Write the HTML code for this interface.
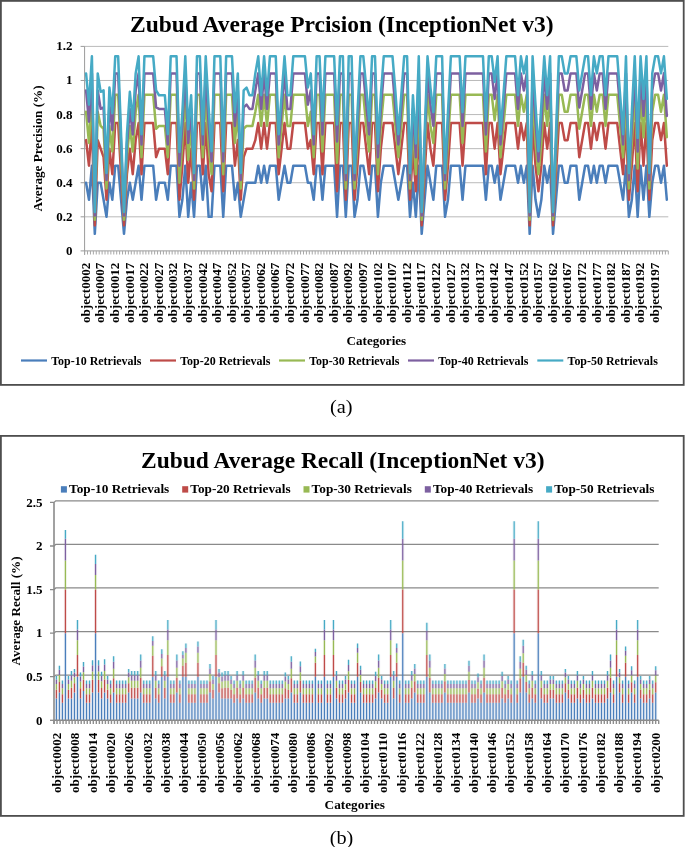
<!DOCTYPE html><html><head><meta charset="utf-8"><title>Zubud charts</title>
<style>html,body{margin:0;padding:0;background:#fff;}svg{display:block;will-change:transform;}text{font-family:"Liberation Serif",serif;}</style></head><body>
<svg width="685" height="847" viewBox="0 0 685 847">
<rect width="685" height="847" fill="#fff"/>
<rect x="0.9" y="0.9" width="682.8" height="384" fill="#fff" stroke="#4e4e4e" stroke-width="1.8"/>
<text x="341.8" y="32" text-anchor="middle" font-size="23px" textLength="423.5" lengthAdjust="spacingAndGlyphs" font-family="Liberation Serif, serif" font-weight="bold">Zubud Average Prcision (InceptionNet v3)</text>
<line x1="80.6" x2="84.6" y1="250.90" y2="250.90" stroke="#9a9a9a" stroke-width="1"/>
<text x="72.4" y="254.90" text-anchor="end" font-size="13px" font-family="Liberation Serif, serif" font-weight="bold">0</text>
<line x1="84.6" x2="668.3" y1="216.82" y2="216.82" stroke="#bababa" stroke-width="1"/>
<line x1="80.6" x2="84.6" y1="216.82" y2="216.82" stroke="#9a9a9a" stroke-width="1"/>
<text x="72.4" y="220.82" text-anchor="end" font-size="13px" font-family="Liberation Serif, serif" font-weight="bold">0.2</text>
<line x1="84.6" x2="668.3" y1="182.73" y2="182.73" stroke="#bababa" stroke-width="1"/>
<line x1="80.6" x2="84.6" y1="182.73" y2="182.73" stroke="#9a9a9a" stroke-width="1"/>
<text x="72.4" y="186.73" text-anchor="end" font-size="13px" font-family="Liberation Serif, serif" font-weight="bold">0.4</text>
<line x1="84.6" x2="668.3" y1="148.65" y2="148.65" stroke="#bababa" stroke-width="1"/>
<line x1="80.6" x2="84.6" y1="148.65" y2="148.65" stroke="#9a9a9a" stroke-width="1"/>
<text x="72.4" y="152.65" text-anchor="end" font-size="13px" font-family="Liberation Serif, serif" font-weight="bold">0.6</text>
<line x1="84.6" x2="668.3" y1="114.57" y2="114.57" stroke="#bababa" stroke-width="1"/>
<line x1="80.6" x2="84.6" y1="114.57" y2="114.57" stroke="#9a9a9a" stroke-width="1"/>
<text x="72.4" y="118.57" text-anchor="end" font-size="13px" font-family="Liberation Serif, serif" font-weight="bold">0.8</text>
<line x1="84.6" x2="668.3" y1="80.48" y2="80.48" stroke="#bababa" stroke-width="1"/>
<line x1="80.6" x2="84.6" y1="80.48" y2="80.48" stroke="#9a9a9a" stroke-width="1"/>
<text x="72.4" y="84.48" text-anchor="end" font-size="13px" font-family="Liberation Serif, serif" font-weight="bold">1</text>
<line x1="84.6" x2="668.3" y1="46.40" y2="46.40" stroke="#bababa" stroke-width="1"/>
<line x1="80.6" x2="84.6" y1="46.40" y2="46.40" stroke="#9a9a9a" stroke-width="1"/>
<text x="72.4" y="50.40" text-anchor="end" font-size="13px" font-family="Liberation Serif, serif" font-weight="bold">1.2</text>
<line x1="84.6" x2="84.6" y1="46.4" y2="254.9" stroke="#9a9a9a" stroke-width="1"/>
<line x1="84.6" x2="668.3" y1="250.9" y2="250.9" stroke="#9a9a9a" stroke-width="1"/>
<path d="M84.60 250.9v3.6M87.52 250.9v3.6M90.44 250.9v3.6M93.36 250.9v3.6M96.27 250.9v3.6M99.19 250.9v3.6M102.11 250.9v3.6M105.03 250.9v3.6M107.95 250.9v3.6M110.87 250.9v3.6M113.78 250.9v3.6M116.70 250.9v3.6M119.62 250.9v3.6M122.54 250.9v3.6M125.46 250.9v3.6M128.38 250.9v3.6M131.30 250.9v3.6M134.21 250.9v3.6M137.13 250.9v3.6M140.05 250.9v3.6M142.97 250.9v3.6M145.89 250.9v3.6M148.81 250.9v3.6M151.73 250.9v3.6M154.64 250.9v3.6M157.56 250.9v3.6M160.48 250.9v3.6M163.40 250.9v3.6M166.32 250.9v3.6M169.24 250.9v3.6M172.15 250.9v3.6M175.07 250.9v3.6M177.99 250.9v3.6M180.91 250.9v3.6M183.83 250.9v3.6M186.75 250.9v3.6M189.67 250.9v3.6M192.58 250.9v3.6M195.50 250.9v3.6M198.42 250.9v3.6M201.34 250.9v3.6M204.26 250.9v3.6M207.18 250.9v3.6M210.10 250.9v3.6M213.01 250.9v3.6M215.93 250.9v3.6M218.85 250.9v3.6M221.77 250.9v3.6M224.69 250.9v3.6M227.61 250.9v3.6M230.52 250.9v3.6M233.44 250.9v3.6M236.36 250.9v3.6M239.28 250.9v3.6M242.20 250.9v3.6M245.12 250.9v3.6M248.04 250.9v3.6M250.95 250.9v3.6M253.87 250.9v3.6M256.79 250.9v3.6M259.71 250.9v3.6M262.63 250.9v3.6M265.55 250.9v3.6M268.47 250.9v3.6M271.38 250.9v3.6M274.30 250.9v3.6M277.22 250.9v3.6M280.14 250.9v3.6M283.06 250.9v3.6M285.98 250.9v3.6M288.89 250.9v3.6M291.81 250.9v3.6M294.73 250.9v3.6M297.65 250.9v3.6M300.57 250.9v3.6M303.49 250.9v3.6M306.41 250.9v3.6M309.32 250.9v3.6M312.24 250.9v3.6M315.16 250.9v3.6M318.08 250.9v3.6M321.00 250.9v3.6M323.92 250.9v3.6M326.84 250.9v3.6M329.75 250.9v3.6M332.67 250.9v3.6M335.59 250.9v3.6M338.51 250.9v3.6M341.43 250.9v3.6M344.35 250.9v3.6M347.26 250.9v3.6M350.18 250.9v3.6M353.10 250.9v3.6M356.02 250.9v3.6M358.94 250.9v3.6M361.86 250.9v3.6M364.78 250.9v3.6M367.69 250.9v3.6M370.61 250.9v3.6M373.53 250.9v3.6M376.45 250.9v3.6M379.37 250.9v3.6M382.29 250.9v3.6M385.21 250.9v3.6M388.12 250.9v3.6M391.04 250.9v3.6M393.96 250.9v3.6M396.88 250.9v3.6M399.80 250.9v3.6M402.72 250.9v3.6M405.63 250.9v3.6M408.55 250.9v3.6M411.47 250.9v3.6M414.39 250.9v3.6M417.31 250.9v3.6M420.23 250.9v3.6M423.15 250.9v3.6M426.06 250.9v3.6M428.98 250.9v3.6M431.90 250.9v3.6M434.82 250.9v3.6M437.74 250.9v3.6M440.66 250.9v3.6M443.58 250.9v3.6M446.49 250.9v3.6M449.41 250.9v3.6M452.33 250.9v3.6M455.25 250.9v3.6M458.17 250.9v3.6M461.09 250.9v3.6M464.00 250.9v3.6M466.92 250.9v3.6M469.84 250.9v3.6M472.76 250.9v3.6M475.68 250.9v3.6M478.60 250.9v3.6M481.52 250.9v3.6M484.43 250.9v3.6M487.35 250.9v3.6M490.27 250.9v3.6M493.19 250.9v3.6M496.11 250.9v3.6M499.03 250.9v3.6M501.95 250.9v3.6M504.86 250.9v3.6M507.78 250.9v3.6M510.70 250.9v3.6M513.62 250.9v3.6M516.54 250.9v3.6M519.46 250.9v3.6M522.38 250.9v3.6M525.29 250.9v3.6M528.21 250.9v3.6M531.13 250.9v3.6M534.05 250.9v3.6M536.97 250.9v3.6M539.89 250.9v3.6M542.80 250.9v3.6M545.72 250.9v3.6M548.64 250.9v3.6M551.56 250.9v3.6M554.48 250.9v3.6M557.40 250.9v3.6M560.32 250.9v3.6M563.23 250.9v3.6M566.15 250.9v3.6M569.07 250.9v3.6M571.99 250.9v3.6M574.91 250.9v3.6M577.83 250.9v3.6M580.75 250.9v3.6M583.66 250.9v3.6M586.58 250.9v3.6M589.50 250.9v3.6M592.42 250.9v3.6M595.34 250.9v3.6M598.26 250.9v3.6M601.17 250.9v3.6M604.09 250.9v3.6M607.01 250.9v3.6M609.93 250.9v3.6M612.85 250.9v3.6M615.77 250.9v3.6M618.69 250.9v3.6M621.60 250.9v3.6M624.52 250.9v3.6M627.44 250.9v3.6M630.36 250.9v3.6M633.28 250.9v3.6M636.20 250.9v3.6M639.12 250.9v3.6M642.03 250.9v3.6M644.95 250.9v3.6M647.87 250.9v3.6M650.79 250.9v3.6M653.71 250.9v3.6M656.63 250.9v3.6M659.54 250.9v3.6M662.46 250.9v3.6M665.38 250.9v3.6M668.30 250.9v3.6" stroke="#a6a6a6" stroke-width="1" fill="none"/>
<text transform="translate(89.76,323) rotate(-90)" font-size="13px" textLength="60.4" lengthAdjust="spacingAndGlyphs" font-family="Liberation Serif, serif" font-weight="bold">object0002</text>
<text transform="translate(104.35,323) rotate(-90)" font-size="13px" textLength="60.4" lengthAdjust="spacingAndGlyphs" font-family="Liberation Serif, serif" font-weight="bold">object0007</text>
<text transform="translate(118.94,323) rotate(-90)" font-size="13px" textLength="60.4" lengthAdjust="spacingAndGlyphs" font-family="Liberation Serif, serif" font-weight="bold">object0012</text>
<text transform="translate(133.54,323) rotate(-90)" font-size="13px" textLength="60.4" lengthAdjust="spacingAndGlyphs" font-family="Liberation Serif, serif" font-weight="bold">object0017</text>
<text transform="translate(148.13,323) rotate(-90)" font-size="13px" textLength="60.4" lengthAdjust="spacingAndGlyphs" font-family="Liberation Serif, serif" font-weight="bold">object0022</text>
<text transform="translate(162.72,323) rotate(-90)" font-size="13px" textLength="60.4" lengthAdjust="spacingAndGlyphs" font-family="Liberation Serif, serif" font-weight="bold">object0027</text>
<text transform="translate(177.31,323) rotate(-90)" font-size="13px" textLength="60.4" lengthAdjust="spacingAndGlyphs" font-family="Liberation Serif, serif" font-weight="bold">object0032</text>
<text transform="translate(191.91,323) rotate(-90)" font-size="13px" textLength="60.4" lengthAdjust="spacingAndGlyphs" font-family="Liberation Serif, serif" font-weight="bold">object0037</text>
<text transform="translate(206.50,323) rotate(-90)" font-size="13px" textLength="60.4" lengthAdjust="spacingAndGlyphs" font-family="Liberation Serif, serif" font-weight="bold">object0042</text>
<text transform="translate(221.09,323) rotate(-90)" font-size="13px" textLength="60.4" lengthAdjust="spacingAndGlyphs" font-family="Liberation Serif, serif" font-weight="bold">object0047</text>
<text transform="translate(235.68,323) rotate(-90)" font-size="13px" textLength="60.4" lengthAdjust="spacingAndGlyphs" font-family="Liberation Serif, serif" font-weight="bold">object0052</text>
<text transform="translate(250.28,323) rotate(-90)" font-size="13px" textLength="60.4" lengthAdjust="spacingAndGlyphs" font-family="Liberation Serif, serif" font-weight="bold">object0057</text>
<text transform="translate(264.87,323) rotate(-90)" font-size="13px" textLength="60.4" lengthAdjust="spacingAndGlyphs" font-family="Liberation Serif, serif" font-weight="bold">object0062</text>
<text transform="translate(279.46,323) rotate(-90)" font-size="13px" textLength="60.4" lengthAdjust="spacingAndGlyphs" font-family="Liberation Serif, serif" font-weight="bold">object0067</text>
<text transform="translate(294.05,323) rotate(-90)" font-size="13px" textLength="60.4" lengthAdjust="spacingAndGlyphs" font-family="Liberation Serif, serif" font-weight="bold">object0072</text>
<text transform="translate(308.65,323) rotate(-90)" font-size="13px" textLength="60.4" lengthAdjust="spacingAndGlyphs" font-family="Liberation Serif, serif" font-weight="bold">object0077</text>
<text transform="translate(323.24,323) rotate(-90)" font-size="13px" textLength="60.4" lengthAdjust="spacingAndGlyphs" font-family="Liberation Serif, serif" font-weight="bold">object0082</text>
<text transform="translate(337.83,323) rotate(-90)" font-size="13px" textLength="60.4" lengthAdjust="spacingAndGlyphs" font-family="Liberation Serif, serif" font-weight="bold">object0087</text>
<text transform="translate(352.42,323) rotate(-90)" font-size="13px" textLength="60.4" lengthAdjust="spacingAndGlyphs" font-family="Liberation Serif, serif" font-weight="bold">object0092</text>
<text transform="translate(367.02,323) rotate(-90)" font-size="13px" textLength="60.4" lengthAdjust="spacingAndGlyphs" font-family="Liberation Serif, serif" font-weight="bold">object0097</text>
<text transform="translate(381.61,323) rotate(-90)" font-size="13px" textLength="60.4" lengthAdjust="spacingAndGlyphs" font-family="Liberation Serif, serif" font-weight="bold">object0102</text>
<text transform="translate(396.20,323) rotate(-90)" font-size="13px" textLength="60.4" lengthAdjust="spacingAndGlyphs" font-family="Liberation Serif, serif" font-weight="bold">object0107</text>
<text transform="translate(410.79,323) rotate(-90)" font-size="13px" textLength="60.4" lengthAdjust="spacingAndGlyphs" font-family="Liberation Serif, serif" font-weight="bold">object0112</text>
<text transform="translate(425.39,323) rotate(-90)" font-size="13px" textLength="60.4" lengthAdjust="spacingAndGlyphs" font-family="Liberation Serif, serif" font-weight="bold">object0117</text>
<text transform="translate(439.98,323) rotate(-90)" font-size="13px" textLength="60.4" lengthAdjust="spacingAndGlyphs" font-family="Liberation Serif, serif" font-weight="bold">object0122</text>
<text transform="translate(454.57,323) rotate(-90)" font-size="13px" textLength="60.4" lengthAdjust="spacingAndGlyphs" font-family="Liberation Serif, serif" font-weight="bold">object0127</text>
<text transform="translate(469.16,323) rotate(-90)" font-size="13px" textLength="60.4" lengthAdjust="spacingAndGlyphs" font-family="Liberation Serif, serif" font-weight="bold">object0132</text>
<text transform="translate(483.76,323) rotate(-90)" font-size="13px" textLength="60.4" lengthAdjust="spacingAndGlyphs" font-family="Liberation Serif, serif" font-weight="bold">object0137</text>
<text transform="translate(498.35,323) rotate(-90)" font-size="13px" textLength="60.4" lengthAdjust="spacingAndGlyphs" font-family="Liberation Serif, serif" font-weight="bold">object0142</text>
<text transform="translate(512.94,323) rotate(-90)" font-size="13px" textLength="60.4" lengthAdjust="spacingAndGlyphs" font-family="Liberation Serif, serif" font-weight="bold">object0147</text>
<text transform="translate(527.53,323) rotate(-90)" font-size="13px" textLength="60.4" lengthAdjust="spacingAndGlyphs" font-family="Liberation Serif, serif" font-weight="bold">object0152</text>
<text transform="translate(542.13,323) rotate(-90)" font-size="13px" textLength="60.4" lengthAdjust="spacingAndGlyphs" font-family="Liberation Serif, serif" font-weight="bold">object0157</text>
<text transform="translate(556.72,323) rotate(-90)" font-size="13px" textLength="60.4" lengthAdjust="spacingAndGlyphs" font-family="Liberation Serif, serif" font-weight="bold">object0162</text>
<text transform="translate(571.31,323) rotate(-90)" font-size="13px" textLength="60.4" lengthAdjust="spacingAndGlyphs" font-family="Liberation Serif, serif" font-weight="bold">object0167</text>
<text transform="translate(585.90,323) rotate(-90)" font-size="13px" textLength="60.4" lengthAdjust="spacingAndGlyphs" font-family="Liberation Serif, serif" font-weight="bold">object0172</text>
<text transform="translate(600.50,323) rotate(-90)" font-size="13px" textLength="60.4" lengthAdjust="spacingAndGlyphs" font-family="Liberation Serif, serif" font-weight="bold">object0177</text>
<text transform="translate(615.09,323) rotate(-90)" font-size="13px" textLength="60.4" lengthAdjust="spacingAndGlyphs" font-family="Liberation Serif, serif" font-weight="bold">object0182</text>
<text transform="translate(629.68,323) rotate(-90)" font-size="13px" textLength="60.4" lengthAdjust="spacingAndGlyphs" font-family="Liberation Serif, serif" font-weight="bold">object0187</text>
<text transform="translate(644.27,323) rotate(-90)" font-size="13px" textLength="60.4" lengthAdjust="spacingAndGlyphs" font-family="Liberation Serif, serif" font-weight="bold">object0192</text>
<text transform="translate(658.87,323) rotate(-90)" font-size="13px" textLength="60.4" lengthAdjust="spacingAndGlyphs" font-family="Liberation Serif, serif" font-weight="bold">object0197</text>
<text transform="translate(41.7,148.4) rotate(-90)" text-anchor="middle" font-size="13px" textLength="126" lengthAdjust="spacingAndGlyphs" font-family="Liberation Serif, serif" font-weight="bold">Average Precision (%)</text>
<text x="376.4" y="344.6" text-anchor="middle" font-size="13px" textLength="59.6" lengthAdjust="spacingAndGlyphs" font-family="Liberation Serif, serif" font-weight="bold">Categories</text>
<polyline points="86.06,182.73 88.98,199.78 91.90,165.69 94.81,233.86 97.73,182.73 100.65,182.73 103.57,199.78 106.49,216.82 109.41,182.73 112.33,199.78 115.24,165.69 118.16,165.69 121.08,199.78 124.00,233.86 126.92,199.78 129.84,182.73 132.76,199.78 135.67,182.73 138.59,165.69 141.51,199.78 144.43,165.69 147.35,165.69 150.27,165.69 153.18,165.69 156.10,199.78 159.02,182.73 161.94,182.73 164.86,182.73 167.78,199.78 170.70,165.69 173.61,165.69 176.53,165.69 179.45,216.82 182.37,199.78 185.29,165.69 188.21,216.82 191.13,182.73 194.04,216.82 196.96,165.69 199.88,165.69 202.80,199.78 205.72,165.69 208.64,216.82 211.55,216.82 214.47,165.69 217.39,165.69 220.31,165.69 223.23,216.82 226.15,165.69 229.07,165.69 231.98,165.69 234.90,199.78 237.82,182.73 240.74,216.82 243.66,199.78 246.58,182.73 249.50,182.73 252.41,182.73 255.33,182.73 258.25,165.69 261.17,182.73 264.09,165.69 267.01,182.73 269.92,165.69 272.84,165.69 275.76,165.69 278.68,199.78 281.60,182.73 284.52,165.69 287.44,182.73 290.35,182.73 293.27,165.69 296.19,165.69 299.11,165.69 302.03,165.69 304.95,165.69 307.87,182.73 310.78,182.73 313.70,199.78 316.62,165.69 319.54,165.69 322.46,199.78 325.38,165.69 328.29,165.69 331.21,165.69 334.13,165.69 337.05,216.82 339.97,165.69 342.89,165.69 345.81,216.82 348.72,165.69 351.64,165.69 354.56,216.82 357.48,199.78 360.40,165.69 363.32,165.69 366.24,182.73 369.15,199.78 372.07,165.69 374.99,165.69 377.91,216.82 380.83,182.73 383.75,165.69 386.66,165.69 389.58,165.69 392.50,165.69 395.42,182.73 398.34,199.78 401.26,182.73 404.18,165.69 407.09,165.69 410.01,216.82 412.93,182.73 415.85,216.82 418.77,165.69 421.69,233.86 424.61,199.78 427.52,165.69 430.44,182.73 433.36,199.78 436.28,165.69 439.20,165.69 442.12,165.69 445.03,216.82 447.95,199.78 450.87,165.69 453.79,165.69 456.71,165.69 459.63,165.69 462.55,199.78 465.46,165.69 468.38,165.69 471.30,165.69 474.22,165.69 477.14,165.69 480.06,165.69 482.98,165.69 485.89,199.78 488.81,165.69 491.73,165.69 494.65,182.73 497.57,165.69 500.49,199.78 503.40,182.73 506.32,165.69 509.24,165.69 512.16,165.69 515.08,165.69 518.00,182.73 520.92,165.69 523.83,182.73 526.75,165.69 529.67,233.86 532.59,165.69 535.51,199.78 538.43,216.82 541.35,199.78 544.26,165.69 547.18,182.73 550.10,165.69 553.02,233.86 555.94,199.78 558.86,165.69 561.77,165.69 564.69,182.73 567.61,182.73 570.53,165.69 573.45,165.69 576.37,165.69 579.29,199.78 582.20,182.73 585.12,165.69 588.04,165.69 590.96,182.73 593.88,165.69 596.80,182.73 599.72,165.69 602.63,165.69 605.55,182.73 608.47,165.69 611.39,165.69 614.31,165.69 617.23,165.69 620.14,182.73 623.06,199.78 625.98,165.69 628.90,216.82 631.82,199.78 634.74,165.69 637.66,216.82 640.57,165.69 643.49,199.78 646.41,165.69 649.33,216.82 652.25,182.73 655.17,165.69 658.09,165.69 661.00,182.73 663.92,165.69 666.84,199.78" fill="none" stroke="#4a7ebb" stroke-width="2.5" stroke-linejoin="round" stroke-linecap="round"/>
<polyline points="86.06,140.13 88.98,165.69 91.90,123.09 94.81,225.34 97.73,140.13 100.65,148.65 103.57,157.17 106.49,199.78 109.41,148.65 112.33,174.21 115.24,123.09 118.16,123.09 121.08,174.21 124.00,225.34 126.92,174.21 129.84,148.65 132.76,174.21 135.67,140.13 138.59,123.09 141.51,174.21 144.43,123.09 147.35,123.09 150.27,123.09 153.18,123.09 156.10,157.17 159.02,148.65 161.94,148.65 164.86,148.65 167.78,174.21 170.70,123.09 173.61,123.09 176.53,123.09 179.45,199.78 182.37,165.69 185.29,123.09 188.21,182.73 191.13,148.65 194.04,199.78 196.96,123.09 199.88,123.09 202.80,174.21 205.72,123.09 208.64,174.21 211.55,191.25 214.47,123.09 217.39,123.09 220.31,123.09 223.23,191.25 226.15,123.09 229.07,123.09 231.98,123.09 234.90,165.69 237.82,140.13 240.74,199.78 243.66,157.17 246.58,148.65 249.50,148.65 252.41,148.65 255.33,140.13 258.25,123.09 261.17,148.65 264.09,123.09 267.01,148.65 269.92,123.09 272.84,123.09 275.76,123.09 278.68,174.21 281.60,148.65 284.52,123.09 287.44,148.65 290.35,148.65 293.27,123.09 296.19,123.09 299.11,123.09 302.03,123.09 304.95,123.09 307.87,148.65 310.78,140.13 313.70,174.21 316.62,123.09 319.54,123.09 322.46,174.21 325.38,123.09 328.29,123.09 331.21,123.09 334.13,123.09 337.05,191.25 339.97,123.09 342.89,123.09 345.81,199.78 348.72,123.09 351.64,123.09 354.56,199.78 357.48,165.69 360.40,123.09 363.32,123.09 366.24,148.65 369.15,174.21 372.07,123.09 374.99,123.09 377.91,191.25 380.83,148.65 383.75,123.09 386.66,123.09 389.58,123.09 392.50,123.09 395.42,148.65 398.34,174.21 401.26,148.65 404.18,123.09 407.09,123.09 410.01,199.78 412.93,148.65 415.85,191.25 418.77,123.09 421.69,225.34 424.61,174.21 427.52,123.09 430.44,148.65 433.36,165.69 436.28,123.09 439.20,123.09 442.12,123.09 445.03,199.78 447.95,165.69 450.87,123.09 453.79,123.09 456.71,123.09 459.63,123.09 462.55,165.69 465.46,123.09 468.38,123.09 471.30,123.09 474.22,123.09 477.14,123.09 480.06,123.09 482.98,123.09 485.89,174.21 488.81,123.09 491.73,123.09 494.65,148.65 497.57,123.09 500.49,174.21 503.40,148.65 506.32,123.09 509.24,123.09 512.16,123.09 515.08,123.09 518.00,148.65 520.92,123.09 523.83,140.13 526.75,123.09 529.67,225.34 532.59,123.09 535.51,165.69 538.43,191.25 541.35,165.69 544.26,123.09 547.18,148.65 550.10,123.09 553.02,225.34 555.94,174.21 558.86,123.09 561.77,123.09 564.69,140.13 567.61,140.13 570.53,123.09 573.45,123.09 576.37,123.09 579.29,157.17 582.20,140.13 585.12,123.09 588.04,123.09 590.96,148.65 593.88,123.09 596.80,140.13 599.72,123.09 602.63,123.09 605.55,148.65 608.47,123.09 611.39,123.09 614.31,123.09 617.23,123.09 620.14,148.65 623.06,174.21 625.98,123.09 628.90,199.78 631.82,165.69 634.74,123.09 637.66,191.25 640.57,123.09 643.49,165.69 646.41,123.09 649.33,199.78 652.25,140.13 655.17,123.09 658.09,123.09 661.00,140.13 663.92,123.09 666.84,165.69" fill="none" stroke="#be4b48" stroke-width="2.5" stroke-linejoin="round" stroke-linecap="round"/>
<polyline points="86.06,111.73 88.98,142.97 91.90,94.68 94.81,219.66 97.73,111.73 100.65,125.93 103.57,128.77 106.49,188.41 109.41,125.93 112.33,151.49 115.24,94.68 118.16,94.68 121.08,157.17 124.00,219.66 126.92,157.17 129.84,125.93 132.76,151.49 135.67,111.73 138.59,94.68 141.51,157.17 144.43,94.68 147.35,94.68 150.27,94.68 153.18,94.68 156.10,128.77 159.02,125.93 161.94,125.93 164.86,125.93 167.78,157.17 170.70,94.68 173.61,94.68 176.53,94.68 179.45,182.73 182.37,142.97 185.29,94.68 188.21,160.01 191.13,125.93 194.04,188.41 196.96,94.68 199.88,94.68 202.80,157.17 205.72,94.68 208.64,145.81 211.55,174.21 214.47,94.68 217.39,94.68 220.31,94.68 223.23,174.21 226.15,94.68 229.07,94.68 231.98,94.68 234.90,142.97 237.82,111.73 240.74,188.41 243.66,128.77 246.58,125.93 249.50,125.93 252.41,125.93 255.33,111.73 258.25,94.68 261.17,125.93 264.09,94.68 267.01,125.93 269.92,94.68 272.84,94.68 275.76,94.68 278.68,157.17 281.60,125.93 284.52,94.68 287.44,125.93 290.35,125.93 293.27,94.68 296.19,94.68 299.11,94.68 302.03,94.68 304.95,94.68 307.87,125.93 310.78,111.73 313.70,157.17 316.62,94.68 319.54,94.68 322.46,151.49 325.38,94.68 328.29,94.68 331.21,94.68 334.13,94.68 337.05,162.85 339.97,94.68 342.89,94.68 345.81,188.41 348.72,94.68 351.64,94.68 354.56,188.41 357.48,142.97 360.40,94.68 363.32,94.68 366.24,125.93 369.15,151.49 372.07,94.68 374.99,94.68 377.91,174.21 380.83,125.93 383.75,94.68 386.66,94.68 389.58,94.68 392.50,94.68 395.42,125.93 398.34,157.17 401.26,125.93 404.18,94.68 407.09,94.68 410.01,188.41 412.93,125.93 415.85,174.21 418.77,94.68 421.69,219.66 424.61,157.17 427.52,94.68 430.44,125.93 433.36,142.97 436.28,94.68 439.20,94.68 442.12,94.68 445.03,188.41 447.95,142.97 450.87,94.68 453.79,94.68 456.71,94.68 459.63,94.68 462.55,142.97 465.46,94.68 468.38,94.68 471.30,94.68 474.22,94.68 477.14,94.68 480.06,94.68 482.98,94.68 485.89,151.49 488.81,94.68 491.73,94.68 494.65,120.25 497.57,94.68 500.49,157.17 503.40,125.93 506.32,94.68 509.24,94.68 512.16,94.68 515.08,94.68 518.00,125.93 520.92,94.68 523.83,111.73 526.75,94.68 529.67,219.66 532.59,94.68 535.51,142.97 538.43,174.21 541.35,142.97 544.26,94.68 547.18,125.93 550.10,94.68 553.02,219.66 555.94,157.17 558.86,94.68 561.77,94.68 564.69,111.73 567.61,111.73 570.53,94.68 573.45,94.68 576.37,94.68 579.29,128.77 582.20,111.73 585.12,94.68 588.04,94.68 590.96,125.93 593.88,94.68 596.80,111.73 599.72,94.68 602.63,94.68 605.55,125.93 608.47,94.68 611.39,94.68 614.31,94.68 617.23,94.68 620.14,125.93 623.06,157.17 625.98,94.68 628.90,188.41 631.82,142.97 634.74,94.68 637.66,168.53 640.57,94.68 643.49,137.29 646.41,94.68 649.33,188.41 652.25,111.73 655.17,94.68 658.09,94.68 661.00,111.73 663.92,94.68 666.84,137.29" fill="none" stroke="#98b954" stroke-width="2.5" stroke-linejoin="round" stroke-linecap="round"/>
<polyline points="86.06,90.42 88.98,121.67 91.90,73.38 94.81,215.40 97.73,90.42 100.65,108.89 103.57,107.47 106.49,179.89 109.41,104.63 112.33,130.19 115.24,73.38 118.16,73.38 121.08,144.39 124.00,215.40 126.92,144.39 129.84,108.89 132.76,134.45 135.67,90.42 138.59,73.38 141.51,144.39 144.43,73.38 147.35,73.38 150.27,73.38 153.18,73.38 156.10,107.47 159.02,108.89 161.94,108.89 164.86,108.89 167.78,144.39 170.70,73.38 173.61,73.38 176.53,73.38 179.45,165.69 182.37,125.93 185.29,73.38 188.21,142.97 191.13,108.89 194.04,179.89 196.96,73.38 199.88,73.38 202.80,144.39 205.72,73.38 208.64,124.51 211.55,161.43 214.47,73.38 217.39,73.38 220.31,73.38 223.23,161.43 226.15,73.38 229.07,73.38 231.98,73.38 234.90,125.93 237.82,90.42 240.74,179.89 243.66,107.47 246.58,104.63 249.50,108.89 252.41,108.89 255.33,90.42 258.25,73.38 261.17,108.89 264.09,73.38 267.01,108.89 269.92,73.38 272.84,73.38 275.76,73.38 278.68,144.39 281.60,108.89 284.52,73.38 287.44,108.89 290.35,108.89 293.27,73.38 296.19,73.38 299.11,73.38 302.03,73.38 304.95,73.38 307.87,104.63 310.78,90.42 313.70,144.39 316.62,73.38 319.54,73.38 322.46,134.45 325.38,73.38 328.29,73.38 331.21,73.38 334.13,73.38 337.05,141.55 339.97,73.38 342.89,73.38 345.81,179.89 348.72,73.38 351.64,73.38 354.56,179.89 357.48,125.93 360.40,73.38 363.32,73.38 366.24,104.63 369.15,134.45 372.07,73.38 374.99,73.38 377.91,157.17 380.83,108.89 383.75,73.38 386.66,73.38 389.58,73.38 392.50,73.38 395.42,108.89 398.34,144.39 401.26,108.89 404.18,73.38 407.09,73.38 410.01,179.89 412.93,108.89 415.85,157.17 418.77,73.38 421.69,215.40 424.61,144.39 427.52,73.38 430.44,104.63 433.36,125.93 436.28,73.38 439.20,73.38 442.12,73.38 445.03,179.89 447.95,125.93 450.87,73.38 453.79,73.38 456.71,73.38 459.63,73.38 462.55,125.93 465.46,73.38 468.38,73.38 471.30,73.38 474.22,73.38 477.14,73.38 480.06,73.38 482.98,73.38 485.89,134.45 488.81,73.38 491.73,73.38 494.65,98.95 497.57,73.38 500.49,144.39 503.40,108.89 506.32,73.38 509.24,73.38 512.16,73.38 515.08,73.38 518.00,108.89 520.92,73.38 523.83,90.42 526.75,73.38 529.67,215.40 532.59,73.38 535.51,121.67 538.43,161.43 541.35,121.67 544.26,73.38 547.18,108.89 550.10,73.38 553.02,215.40 555.94,144.39 558.86,73.38 561.77,73.38 564.69,90.42 567.61,90.42 570.53,73.38 573.45,73.38 576.37,73.38 579.29,107.47 582.20,90.42 585.12,73.38 588.04,73.38 590.96,108.89 593.88,73.38 596.80,90.42 599.72,73.38 602.63,73.38 605.55,108.89 608.47,73.38 611.39,73.38 614.31,73.38 617.23,73.38 620.14,108.89 623.06,144.39 625.98,73.38 628.90,179.89 631.82,125.93 634.74,73.38 637.66,151.49 640.57,73.38 643.49,115.99 646.41,73.38 649.33,179.89 652.25,90.42 655.17,73.38 658.09,73.38 661.00,90.42 663.92,73.38 666.84,115.99" fill="none" stroke="#7d60a0" stroke-width="2.5" stroke-linejoin="round" stroke-linecap="round"/>
<polyline points="86.06,73.38 88.98,104.63 91.90,56.34 94.81,211.99 97.73,73.38 100.65,91.84 103.57,90.42 106.49,173.08 109.41,87.58 112.33,113.15 115.24,56.34 118.16,56.34 121.08,134.16 124.00,211.99 126.92,134.16 129.84,91.84 132.76,120.82 135.67,73.38 138.59,56.34 141.51,134.16 144.43,56.34 147.35,56.34 150.27,56.34 153.18,56.34 156.10,90.42 159.02,95.25 161.94,95.25 164.86,95.25 167.78,134.16 170.70,56.34 173.61,56.34 176.53,56.34 179.45,152.06 182.37,112.29 185.29,56.34 188.21,129.34 191.13,95.25 194.04,173.08 196.96,56.34 199.88,56.34 202.80,134.16 205.72,56.34 208.64,107.47 211.55,151.21 214.47,56.34 217.39,56.34 220.31,56.34 223.23,151.21 226.15,56.34 229.07,56.34 231.98,56.34 234.90,112.29 237.82,73.38 240.74,173.08 243.66,90.42 246.58,87.58 249.50,95.25 252.41,95.25 255.33,73.38 258.25,56.34 261.17,95.25 264.09,56.34 267.01,95.25 269.92,56.34 272.84,56.34 275.76,56.34 278.68,134.16 281.60,95.25 284.52,56.34 287.44,95.25 290.35,95.25 293.27,56.34 296.19,56.34 299.11,56.34 302.03,56.34 304.95,56.34 307.87,87.58 310.78,73.38 313.70,134.16 316.62,56.34 319.54,56.34 322.46,120.82 325.38,56.34 328.29,56.34 331.21,56.34 334.13,56.34 337.05,124.51 339.97,56.34 342.89,56.34 345.81,173.08 348.72,56.34 351.64,56.34 354.56,173.08 357.48,112.29 360.40,56.34 363.32,56.34 366.24,87.58 369.15,120.82 372.07,56.34 374.99,56.34 377.91,143.54 380.83,95.25 383.75,56.34 386.66,56.34 389.58,56.34 392.50,56.34 395.42,91.84 398.34,134.16 401.26,95.25 404.18,56.34 407.09,56.34 410.01,173.08 412.93,95.25 415.85,143.54 418.77,56.34 421.69,211.99 424.61,134.16 427.52,56.34 430.44,87.58 433.36,112.29 436.28,56.34 439.20,56.34 442.12,56.34 445.03,173.08 447.95,112.29 450.87,56.34 453.79,56.34 456.71,56.34 459.63,56.34 462.55,112.29 465.46,56.34 468.38,56.34 471.30,56.34 474.22,56.34 477.14,56.34 480.06,56.34 482.98,56.34 485.89,120.82 488.81,56.34 491.73,56.34 494.65,81.90 497.57,56.34 500.49,134.16 503.40,95.25 506.32,56.34 509.24,56.34 512.16,56.34 515.08,56.34 518.00,95.25 520.92,56.34 523.83,73.38 526.75,56.34 529.67,211.99 532.59,56.34 535.51,104.63 538.43,151.21 541.35,104.63 544.26,56.34 547.18,95.25 550.10,56.34 553.02,211.99 555.94,134.16 558.86,56.34 561.77,56.34 564.69,73.38 567.61,73.38 570.53,56.34 573.45,56.34 576.37,56.34 579.29,90.42 582.20,73.38 585.12,56.34 588.04,56.34 590.96,95.25 593.88,56.34 596.80,73.38 599.72,56.34 602.63,56.34 605.55,95.25 608.47,56.34 611.39,56.34 614.31,56.34 617.23,56.34 620.14,95.25 623.06,134.16 625.98,56.34 628.90,173.08 631.82,112.29 634.74,56.34 637.66,137.86 640.57,56.34 643.49,98.95 646.41,56.34 649.33,173.08 652.25,73.38 655.17,56.34 658.09,56.34 661.00,73.38 663.92,56.34 666.84,98.95" fill="none" stroke="#46aac5" stroke-width="2.5" stroke-linejoin="round" stroke-linecap="round"/>
<line x1="21" x2="47" y1="360.5" y2="360.5" stroke="#4a7ebb" stroke-width="2.2"/>
<text x="51.2" y="365.2" font-size="12px" textLength="90.3" lengthAdjust="spacingAndGlyphs" font-family="Liberation Serif, serif" font-weight="bold">Top-10 Retrievals</text>
<line x1="150" x2="176" y1="360.5" y2="360.5" stroke="#be4b48" stroke-width="2.2"/>
<text x="180.2" y="365.2" font-size="12px" textLength="90.3" lengthAdjust="spacingAndGlyphs" font-family="Liberation Serif, serif" font-weight="bold">Top-20 Retrievals</text>
<line x1="279" x2="305" y1="360.5" y2="360.5" stroke="#98b954" stroke-width="2.2"/>
<text x="309.2" y="365.2" font-size="12px" textLength="90.3" lengthAdjust="spacingAndGlyphs" font-family="Liberation Serif, serif" font-weight="bold">Top-30 Retrievals</text>
<line x1="408" x2="434" y1="360.5" y2="360.5" stroke="#7d60a0" stroke-width="2.2"/>
<text x="438.2" y="365.2" font-size="12px" textLength="90.3" lengthAdjust="spacingAndGlyphs" font-family="Liberation Serif, serif" font-weight="bold">Top-40 Retrievals</text>
<line x1="537.3" x2="563.3" y1="360.5" y2="360.5" stroke="#46aac5" stroke-width="2.2"/>
<text x="567.5" y="365.2" font-size="12px" textLength="90.3" lengthAdjust="spacingAndGlyphs" font-family="Liberation Serif, serif" font-weight="bold">Top-50 Retrievals</text>
<text x="341.3" y="413.2" text-anchor="middle" font-size="18.5px" textLength="22.6" lengthAdjust="spacingAndGlyphs" font-family="Liberation Serif, serif">(a)</text>
<rect x="0.9" y="435.9" width="682.8" height="380" fill="#fff" stroke="#4e4e4e" stroke-width="1.8"/>
<text x="342.8" y="468" text-anchor="middle" font-size="23px" textLength="403.5" lengthAdjust="spacingAndGlyphs" font-family="Liberation Serif, serif" font-weight="bold">Zubud Average Recall (InceptionNet v3)</text>
<line x1="50.0" x2="54.0" y1="720.30" y2="720.30" stroke="#8a8a8a" stroke-width="1.3"/>
<text x="42.5" y="724.60" text-anchor="end" font-size="13px" font-family="Liberation Serif, serif" font-weight="bold">0</text>
<path d="M50.0 676.72H54.0L55.8 675.12H658.7" fill="none" stroke="#8a8a8a" stroke-width="1.3"/>
<text x="42.5" y="681.02" text-anchor="end" font-size="13px" font-family="Liberation Serif, serif" font-weight="bold">0.5</text>
<path d="M50.0 633.14H54.0L55.8 631.54H658.7" fill="none" stroke="#8a8a8a" stroke-width="1.3"/>
<text x="42.5" y="637.44" text-anchor="end" font-size="13px" font-family="Liberation Serif, serif" font-weight="bold">1</text>
<path d="M50.0 589.56H54.0L55.8 587.96H658.7" fill="none" stroke="#8a8a8a" stroke-width="1.3"/>
<text x="42.5" y="593.86" text-anchor="end" font-size="13px" font-family="Liberation Serif, serif" font-weight="bold">1.5</text>
<path d="M50.0 545.98H54.0L55.8 544.38H658.7" fill="none" stroke="#8a8a8a" stroke-width="1.3"/>
<text x="42.5" y="550.28" text-anchor="end" font-size="13px" font-family="Liberation Serif, serif" font-weight="bold">2</text>
<path d="M50.0 502.40H54.0L55.8 500.80H658.7" fill="none" stroke="#8a8a8a" stroke-width="1.3"/>
<text x="42.5" y="506.70" text-anchor="end" font-size="13px" font-family="Liberation Serif, serif" font-weight="bold">2.5</text>
<path d="M54.90 720.30H57.90V698.51H54.90ZM57.91 720.30H60.91V692.41H57.91ZM60.92 720.30H63.92V702.87H60.92ZM63.93 720.30H66.93V633.14H63.93ZM66.95 720.30H69.95V698.51H66.95ZM69.96 720.30H72.96V698.51H69.96ZM72.97 720.30H75.97V692.41H72.97ZM75.98 720.30H78.98V676.72H75.98ZM78.99 720.30H81.99V698.51H78.99ZM82.00 720.30H85.00V691.10H82.00ZM85.02 720.30H88.02V702.87H85.02ZM88.03 720.30H91.03V702.87H88.03ZM91.04 720.30H94.04V692.41H91.04ZM94.05 720.30H97.05V633.14H94.05ZM97.06 720.30H100.06V692.41H97.06ZM100.07 720.30H103.07V698.51H100.07ZM103.09 720.30H106.09V692.41H103.09ZM106.10 720.30H109.10V698.51H106.10ZM109.11 720.30H112.11V702.87H109.11ZM112.12 720.30H115.12V692.41H112.12ZM115.13 720.30H118.13V702.87H115.13ZM118.14 720.30H121.14V702.87H118.14ZM121.16 720.30H124.16V702.87H121.16ZM124.17 720.30H127.17V702.87H124.17ZM127.18 720.30H130.18V692.41H127.18ZM130.19 720.30H133.19V698.51H130.19ZM133.20 720.30H136.20V698.51H133.20ZM136.21 720.30H139.21V698.51H136.21ZM139.22 720.30H142.22V692.41H139.22ZM142.24 720.30H145.24V702.87H142.24ZM145.25 720.30H148.25V702.87H145.25ZM148.26 720.30H151.26V702.87H148.26ZM151.27 720.30H154.27V676.72H151.27ZM154.28 720.30H157.28V698.51H154.28ZM157.29 720.30H160.29V702.87H157.29ZM160.31 720.30H163.31V676.72H160.31ZM163.32 720.30H166.32V698.51H163.32ZM166.33 720.30H169.33V676.72H166.33ZM169.34 720.30H172.34V702.87H169.34ZM172.35 720.30H175.35V702.87H172.35ZM175.36 720.30H178.36V692.41H175.36ZM178.38 720.30H181.38V702.87H178.38ZM181.39 720.30H184.39V676.72H181.39ZM184.40 720.30H187.40V676.72H184.40ZM187.41 720.30H190.41V702.87H187.41ZM190.42 720.30H193.42V702.87H190.42ZM193.43 720.30H196.43V702.87H193.43ZM196.45 720.30H199.45V676.72H196.45ZM199.46 720.30H202.46V702.87H199.46ZM202.47 720.30H205.47V702.87H202.47ZM205.48 720.30H208.48V702.87H205.48ZM208.49 720.30H211.49V692.41H208.49ZM211.50 720.30H214.50V698.51H211.50ZM214.51 720.30H217.51V676.72H214.51ZM217.53 720.30H220.53V692.41H217.53ZM220.54 720.30H223.54V698.51H220.54ZM223.55 720.30H226.55V698.51H223.55ZM226.56 720.30H229.56V698.51H226.56ZM229.57 720.30H232.57V698.51H229.57ZM232.58 720.30H235.58V702.87H232.58ZM235.60 720.30H238.60V698.51H235.60ZM238.61 720.30H241.61V702.87H238.61ZM241.62 720.30H244.62V698.51H241.62ZM244.63 720.30H247.63V702.87H244.63ZM247.64 720.30H250.64V702.87H247.64ZM250.65 720.30H253.65V702.87H250.65ZM253.67 720.30H256.67V692.41H253.67ZM256.68 720.30H259.68V698.51H256.68ZM259.69 720.30H262.69V702.87H259.69ZM262.70 720.30H265.70V698.51H262.70ZM265.71 720.30H268.71V698.51H265.71ZM268.72 720.30H271.72V702.87H268.72ZM271.74 720.30H274.74V702.87H271.74ZM274.75 720.30H277.75V702.87H274.75ZM277.76 720.30H280.76V702.87H277.76ZM280.77 720.30H283.77V702.87H280.77ZM283.78 720.30H286.78V698.51H283.78ZM286.79 720.30H289.79V698.51H286.79ZM289.80 720.30H292.80V692.41H289.80ZM292.82 720.30H295.82V702.87H292.82ZM295.83 720.30H298.83V702.87H295.83ZM298.84 720.30H301.84V692.41H298.84ZM301.85 720.30H304.85V702.87H301.85ZM304.86 720.30H307.86V702.87H304.86ZM307.87 720.30H310.87V702.87H307.87ZM310.89 720.30H313.89V702.87H310.89ZM313.90 720.30H316.90V676.72H313.90ZM316.91 720.30H319.91V702.87H316.91ZM319.92 720.30H322.92V702.87H319.92ZM322.93 720.30H325.93V676.72H322.93ZM325.94 720.30H328.94V702.87H325.94ZM328.96 720.30H331.96V702.87H328.96ZM331.97 720.30H334.97V676.72H331.97ZM334.98 720.30H337.98V698.51H334.98ZM337.99 720.30H340.99V702.87H337.99ZM341.00 720.30H344.00V702.87H341.00ZM344.01 720.30H347.01V698.51H344.01ZM347.03 720.30H350.03V692.41H347.03ZM350.04 720.30H353.04V702.87H350.04ZM353.05 720.30H356.05V702.87H353.05ZM356.06 720.30H359.06V676.72H356.06ZM359.07 720.30H362.07V692.41H359.07ZM362.08 720.30H365.08V702.87H362.08ZM365.09 720.30H368.09V702.87H365.09ZM368.11 720.30H371.11V702.87H368.11ZM371.12 720.30H374.12V702.87H371.12ZM374.13 720.30H377.13V698.51H374.13ZM377.14 720.30H380.14V692.41H377.14ZM380.15 720.30H383.15V698.51H380.15ZM383.16 720.30H386.16V702.87H383.16ZM386.18 720.30H389.18V702.87H386.18ZM389.19 720.30H392.19V676.72H389.19ZM392.20 720.30H395.20V698.51H392.20ZM395.21 720.30H398.21V676.72H395.21ZM398.22 720.30H401.22V702.87H398.22ZM401.23 720.30H404.23V633.14H401.23ZM404.25 720.30H407.25V702.87H404.25ZM407.26 720.30H410.26V702.87H407.26ZM410.27 720.30H413.27V698.51H410.27ZM413.28 720.30H416.28V692.41H413.28ZM416.29 720.30H419.29V702.87H416.29ZM419.30 720.30H422.30V702.87H419.30ZM422.32 720.30H425.32V702.87H422.32ZM425.33 720.30H428.33V676.72H425.33ZM428.34 720.30H431.34V692.41H428.34ZM431.35 720.30H434.35V702.87H431.35ZM434.36 720.30H437.36V702.87H434.36ZM437.37 720.30H440.37V702.87H437.37ZM440.38 720.30H443.38V702.87H440.38ZM443.40 720.30H446.40V692.41H443.40ZM446.41 720.30H449.41V702.87H446.41ZM449.42 720.30H452.42V702.87H449.42ZM452.43 720.30H455.43V702.87H452.43ZM455.44 720.30H458.44V702.87H455.44ZM458.45 720.30H461.45V702.87H458.45ZM461.47 720.30H464.47V702.87H461.47ZM464.48 720.30H467.48V702.87H464.48ZM467.49 720.30H470.49V692.41H467.49ZM470.50 720.30H473.50V702.87H470.50ZM473.51 720.30H476.51V702.87H473.51ZM476.52 720.30H479.52V698.51H476.52ZM479.54 720.30H482.54V702.87H479.54ZM482.55 720.30H485.55V692.41H482.55ZM485.56 720.30H488.56V702.87H485.56ZM488.57 720.30H491.57V702.87H488.57ZM491.58 720.30H494.58V702.87H491.58ZM494.59 720.30H497.59V702.87H494.59ZM497.61 720.30H500.61V702.87H497.61ZM500.62 720.30H503.62V698.51H500.62ZM503.63 720.30H506.63V702.87H503.63ZM506.64 720.30H509.64V698.51H506.64ZM509.65 720.30H512.65V702.87H509.65ZM512.66 720.30H515.66V633.14H512.66ZM515.67 720.30H518.67V702.87H515.67ZM518.69 720.30H521.69V692.41H518.69ZM521.70 720.30H524.70V676.72H521.70ZM524.71 720.30H527.71V692.41H524.71ZM527.72 720.30H530.72V702.87H527.72ZM530.73 720.30H533.73V698.51H530.73ZM533.74 720.30H536.74V702.87H533.74ZM536.76 720.30H539.76V633.14H536.76ZM539.77 720.30H542.77V698.51H539.77ZM542.78 720.30H545.78V702.87H542.78ZM545.79 720.30H548.79V702.87H545.79ZM548.80 720.30H551.80V698.51H548.80ZM551.81 720.30H554.81V698.51H551.81ZM554.83 720.30H557.83V702.87H554.83ZM557.84 720.30H560.84V702.87H557.84ZM560.85 720.30H563.85V702.87H560.85ZM563.86 720.30H566.86V692.41H563.86ZM566.87 720.30H569.87V698.51H566.87ZM569.88 720.30H572.88V702.87H569.88ZM572.90 720.30H575.90V702.87H572.90ZM575.91 720.30H578.91V698.51H575.91ZM578.92 720.30H581.92V702.87H578.92ZM581.93 720.30H584.93V698.51H581.93ZM584.94 720.30H587.94V702.87H584.94ZM587.95 720.30H590.95V702.87H587.95ZM590.96 720.30H593.96V698.51H590.96ZM593.98 720.30H596.98V702.87H593.98ZM596.99 720.30H599.99V702.87H596.99ZM600.00 720.30H603.00V702.87H600.00ZM603.01 720.30H606.01V702.87H603.01ZM606.02 720.30H609.02V698.51H606.02ZM609.03 720.30H612.03V692.41H609.03ZM612.05 720.30H615.05V702.87H612.05ZM615.06 720.30H618.06V676.72H615.06ZM618.07 720.30H621.07V692.41H618.07ZM621.08 720.30H624.08V702.87H621.08ZM624.09 720.30H627.09V676.72H624.09ZM627.10 720.30H630.10V702.87H627.10ZM630.12 720.30H633.12V692.41H630.12ZM633.13 720.30H636.13V702.87H633.13ZM636.14 720.30H639.14V676.72H636.14ZM639.15 720.30H642.15V698.51H639.15ZM642.16 720.30H645.16V702.87H642.16ZM645.17 720.30H648.17V702.87H645.17ZM648.19 720.30H651.19V698.51H648.19ZM651.20 720.30H654.20V702.87H651.20ZM654.21 720.30H657.21V692.41H654.21Z" fill="#4a7ebb" fill-opacity="0.16"/>
<path d="M54.90 698.51H57.90V689.78H54.90ZM57.91 692.41H60.91V681.98H57.91ZM60.92 702.87H63.92V694.14H60.92ZM63.93 633.14H66.93V589.56H63.93ZM66.95 698.51H69.95V689.78H66.95ZM69.96 698.51H72.96V687.78H69.96ZM72.97 692.41H75.97V683.27H72.97ZM75.98 676.72H78.98V654.93H75.98ZM78.99 698.51H81.99V688.36H78.99ZM82.00 691.10H85.00V679.73H82.00ZM85.02 702.87H88.02V694.14H85.02ZM88.03 702.87H91.03V694.14H88.03ZM91.04 692.41H94.04V679.84H91.04ZM94.05 633.14H97.05V589.56H94.05ZM97.06 692.41H100.06V679.84H97.06ZM100.07 698.51H103.07V688.12H100.07ZM103.09 692.41H106.09V679.50H103.09ZM106.10 698.51H109.10V689.78H106.10ZM109.11 702.87H112.11V694.14H109.11ZM112.12 692.41H115.12V678.28H112.12ZM115.13 702.87H118.13V694.14H115.13ZM118.14 702.87H121.14V694.14H118.14ZM121.16 702.87H124.16V694.14H121.16ZM124.17 702.87H127.17V694.14H124.17ZM127.18 692.41H130.18V683.27H127.18ZM130.19 698.51H133.19V687.78H130.19ZM133.20 698.51H136.20V687.78H133.20ZM136.21 698.51H139.21V687.78H136.21ZM139.22 692.41H142.22V677.64H139.22ZM142.24 702.87H145.24V694.14H142.24ZM145.25 702.87H148.25V694.14H145.25ZM148.26 702.87H151.26V694.14H148.26ZM151.27 676.72H154.27V655.80H151.27ZM154.28 698.51H157.28V687.78H154.28ZM157.29 702.87H160.29V694.14H157.29ZM160.31 676.72H163.31V666.26H160.31ZM163.32 698.51H166.32V687.78H163.32ZM166.33 676.72H169.33V654.93H166.33ZM169.34 702.87H172.34V694.14H169.34ZM172.35 702.87H175.35V694.14H172.35ZM175.36 692.41H178.36V677.64H175.36ZM178.38 702.87H181.38V694.14H178.38ZM181.39 676.72H184.39V665.65H181.39ZM184.40 676.72H187.40V662.77H184.40ZM187.41 702.87H190.41V694.14H187.41ZM190.42 702.87H193.42V694.14H190.42ZM193.43 702.87H196.43V694.14H193.43ZM196.45 676.72H199.45V662.77H196.45ZM199.46 702.87H202.46V694.14H199.46ZM202.47 702.87H205.47V694.14H202.47ZM205.48 702.87H208.48V694.14H205.48ZM208.49 692.41H211.49V681.37H208.49ZM211.50 698.51H214.50V689.78H211.50ZM214.51 676.72H217.51V654.93H214.51ZM217.53 692.41H220.53V683.27H217.53ZM220.54 698.51H223.54V688.36H220.54ZM223.55 698.51H226.55V687.78H223.55ZM226.56 698.51H229.56V687.78H226.56ZM229.57 698.51H232.57V689.78H229.57ZM232.58 702.87H235.58V694.14H232.58ZM235.60 698.51H238.60V687.78H235.60ZM238.61 702.87H241.61V694.14H238.61ZM241.62 698.51H244.62V687.78H241.62ZM244.63 702.87H247.63V694.14H244.63ZM247.64 702.87H250.64V694.14H247.64ZM250.65 702.87H253.65V694.14H250.65ZM253.67 692.41H256.67V677.64H253.67ZM256.68 698.51H259.68V687.78H256.68ZM259.69 702.87H262.69V694.14H259.69ZM262.70 698.51H265.70V687.78H262.70ZM265.71 698.51H268.71V687.78H265.71ZM268.72 702.87H271.72V694.14H268.72ZM271.74 702.87H274.74V694.14H271.74ZM274.75 702.87H277.75V694.14H274.75ZM277.76 702.87H280.76V694.14H277.76ZM280.77 702.87H283.77V694.14H280.77ZM283.78 698.51H286.78V688.36H283.78ZM286.79 698.51H289.79V689.78H286.79ZM289.80 692.41H292.80V678.28H289.80ZM292.82 702.87H295.82V694.14H292.82ZM295.83 702.87H298.83V694.14H295.83ZM298.84 692.41H301.84V680.39H298.84ZM301.85 702.87H304.85V694.14H301.85ZM304.86 702.87H307.86V694.14H304.86ZM307.87 702.87H310.87V694.14H307.87ZM310.89 702.87H313.89V694.14H310.89ZM313.90 676.72H316.90V662.77H313.90ZM316.91 702.87H319.91V694.14H316.91ZM319.92 702.87H322.92V694.14H319.92ZM322.93 676.72H325.93V654.93H322.93ZM325.94 702.87H328.94V694.14H325.94ZM328.96 702.87H331.96V694.14H328.96ZM331.97 676.72H334.97V654.93H331.97ZM334.98 698.51H337.98V687.78H334.98ZM337.99 702.87H340.99V694.14H337.99ZM341.00 702.87H344.00V694.14H341.00ZM344.01 698.51H347.01V689.78H344.01ZM347.03 692.41H350.03V679.71H347.03ZM350.04 702.87H353.04V694.14H350.04ZM353.05 702.87H356.05V694.14H353.05ZM356.06 676.72H359.06V662.77H356.06ZM359.07 692.41H362.07V681.98H359.07ZM362.08 702.87H365.08V694.14H362.08ZM365.09 702.87H368.09V694.14H365.09ZM368.11 702.87H371.11V694.14H368.11ZM371.12 702.87H374.12V694.14H371.12ZM374.13 698.51H377.13V688.12H374.13ZM377.14 692.41H380.14V677.64H377.14ZM380.15 698.51H383.15V689.78H380.15ZM383.16 702.87H386.16V694.14H383.16ZM386.18 702.87H389.18V694.14H386.18ZM389.19 676.72H392.19V654.93H389.19ZM392.20 698.51H395.20V687.78H392.20ZM395.21 676.72H398.21V662.77H395.21ZM398.22 702.87H401.22V694.14H398.22ZM401.23 633.14H404.23V589.56H401.23ZM404.25 702.87H407.25V694.14H404.25ZM407.26 702.87H410.26V694.14H407.26ZM410.27 698.51H413.27V687.78H410.27ZM413.28 692.41H416.28V681.37H413.28ZM416.29 702.87H419.29V694.14H416.29ZM419.30 702.87H422.30V694.14H419.30ZM422.32 702.87H425.32V694.14H422.32ZM425.33 676.72H428.33V654.93H425.33ZM428.34 692.41H431.34V677.64H428.34ZM431.35 702.87H434.35V694.14H431.35ZM434.36 702.87H437.36V694.14H434.36ZM437.37 702.87H440.37V694.14H437.37ZM440.38 702.87H443.38V694.14H440.38ZM443.40 692.41H446.40V681.37H443.40ZM446.41 702.87H449.41V694.14H446.41ZM449.42 702.87H452.42V694.14H449.42ZM452.43 702.87H455.43V694.14H452.43ZM455.44 702.87H458.44V694.14H455.44ZM458.45 702.87H461.45V694.14H458.45ZM461.47 702.87H464.47V694.14H461.47ZM464.48 702.87H467.48V694.14H464.48ZM467.49 692.41H470.49V680.05H467.49ZM470.50 702.87H473.50V694.14H470.50ZM473.51 702.87H476.51V694.14H473.51ZM476.52 698.51H479.52V688.73H476.52ZM479.54 702.87H482.54V694.14H479.54ZM482.55 692.41H485.55V677.64H482.55ZM485.56 702.87H488.56V694.14H485.56ZM488.57 702.87H491.57V694.14H488.57ZM491.58 702.87H494.58V694.14H491.58ZM494.59 702.87H497.59V694.14H494.59ZM497.61 702.87H500.61V694.14H497.61ZM500.62 698.51H503.62V688.12H500.62ZM503.63 702.87H506.63V694.14H503.63ZM506.64 698.51H509.64V689.78H506.64ZM509.65 702.87H512.65V694.14H509.65ZM512.66 633.14H515.66V589.56H512.66ZM515.67 702.87H518.67V694.14H515.67ZM518.69 692.41H521.69V678.28H518.69ZM521.70 676.72H524.70V662.77H521.70ZM524.71 692.41H527.71V681.98H524.71ZM527.72 702.87H530.72V694.14H527.72ZM530.73 698.51H533.73V687.78H530.73ZM533.74 702.87H536.74V694.14H533.74ZM536.76 633.14H539.76V589.56H536.76ZM539.77 698.51H542.77V687.78H539.77ZM542.78 702.87H545.78V694.14H542.78ZM545.79 702.87H548.79V694.14H545.79ZM548.80 698.51H551.80V689.78H548.80ZM551.81 698.51H554.81V689.78H551.81ZM554.83 702.87H557.83V694.14H554.83ZM557.84 702.87H560.84V694.14H557.84ZM560.85 702.87H563.85V694.14H560.85ZM563.86 692.41H566.86V683.27H563.86ZM566.87 698.51H569.87V689.78H566.87ZM569.88 702.87H572.88V694.14H569.88ZM572.90 702.87H575.90V694.14H572.90ZM575.91 698.51H578.91V687.78H575.91ZM578.92 702.87H581.92V694.14H578.92ZM581.93 698.51H584.93V689.78H581.93ZM584.94 702.87H587.94V694.14H584.94ZM587.95 702.87H590.95V694.14H587.95ZM590.96 698.51H593.96V687.78H590.96ZM593.98 702.87H596.98V694.14H593.98ZM596.99 702.87H599.99V694.14H596.99ZM600.00 702.87H603.00V694.14H600.00ZM603.01 702.87H606.01V694.14H603.01ZM606.02 698.51H609.02V687.78H606.02ZM609.03 692.41H612.03V677.64H609.03ZM612.05 702.87H615.05V694.14H612.05ZM615.06 676.72H618.06V654.93H615.06ZM618.07 692.41H621.07V683.27H618.07ZM621.08 702.87H624.08V694.14H621.08ZM624.09 676.72H627.09V662.77H624.09ZM627.10 702.87H630.10V694.14H627.10ZM630.12 692.41H633.12V682.22H630.12ZM633.13 702.87H636.13V694.14H633.13ZM636.14 676.72H639.14V654.93H636.14ZM639.15 698.51H642.15V689.78H639.15ZM642.16 702.87H645.16V694.14H642.16ZM645.17 702.87H648.17V694.14H645.17ZM648.19 698.51H651.19V689.78H648.19ZM651.20 702.87H654.20V694.14H651.20ZM654.21 692.41H657.21V682.22H654.21Z" fill="#be4b48" fill-opacity="0.16"/>
<path d="M54.90 689.78H57.90V683.96H54.90ZM57.91 681.98H60.91V675.03H57.91ZM60.92 694.14H63.92V688.32H60.92ZM63.93 589.56H66.93V560.54H63.93ZM66.95 689.78H69.95V683.96H66.95ZM69.96 687.78H72.96V680.63H69.96ZM72.97 683.27H75.97V677.18H72.97ZM75.98 654.93H78.98V640.37H75.98ZM78.99 688.36H81.99V681.59H78.99ZM82.00 679.73H85.00V672.14H82.00ZM85.02 694.14H88.02V688.32H85.02ZM88.03 694.14H91.03V688.32H88.03ZM91.04 679.84H94.04V671.47H91.04ZM94.05 589.56H97.05V575.00H94.05ZM97.06 679.84H100.06V671.47H97.06ZM100.07 688.12H103.07V681.19H100.07ZM103.09 679.50H106.09V670.90H103.09ZM106.10 689.78H109.10V683.96H106.10ZM109.11 694.14H112.11V688.32H109.11ZM112.12 678.28H115.12V668.86H112.12ZM115.13 694.14H118.13V688.32H115.13ZM118.14 694.14H121.14V688.32H118.14ZM121.16 694.14H124.16V688.32H121.16ZM124.17 694.14H127.17V688.32H124.17ZM127.18 683.27H130.18V677.18H127.18ZM130.19 687.78H133.19V680.63H130.19ZM133.20 687.78H136.20V680.63H133.20ZM136.21 687.78H139.21V680.63H136.21ZM139.22 677.64H142.22V667.79H139.22ZM142.24 694.14H145.24V688.32H142.24ZM145.25 694.14H148.25V688.32H145.25ZM148.26 694.14H151.26V688.32H148.26ZM151.27 655.80H154.27V645.87H151.27ZM154.28 687.78H157.28V680.63H154.28ZM157.29 694.14H160.29V688.32H157.29ZM160.31 666.26H163.31V658.42H160.31ZM163.32 687.78H166.32V680.63H163.32ZM166.33 654.93H169.33V640.37H166.33ZM169.34 694.14H172.34V688.32H169.34ZM172.35 694.14H175.35V688.32H172.35ZM175.36 677.64H178.36V667.79H175.36ZM178.38 694.14H181.38V688.32H178.38ZM181.39 665.65H184.39V658.42H181.39ZM184.40 662.77H187.40V652.66H184.40ZM187.41 694.14H190.41V688.32H187.41ZM190.42 694.14H193.42V688.32H190.42ZM193.43 694.14H196.43V688.32H193.43ZM196.45 662.77H199.45V652.66H196.45ZM199.46 694.14H202.46V688.32H199.46ZM202.47 694.14H205.47V688.32H202.47ZM205.48 694.14H208.48V688.32H205.48ZM208.49 681.37H211.49V674.01H208.49ZM211.50 689.78H214.50V683.96H211.50ZM214.51 654.93H217.51V640.37H214.51ZM217.53 683.27H220.53V677.18H217.53ZM220.54 688.36H223.54V681.59H220.54ZM223.55 687.78H226.55V680.63H223.55ZM226.56 687.78H229.56V680.63H226.56ZM229.57 689.78H232.57V683.96H229.57ZM232.58 694.14H235.58V688.32H232.58ZM235.60 687.78H238.60V680.63H235.60ZM238.61 694.14H241.61V688.32H238.61ZM241.62 687.78H244.62V680.63H241.62ZM244.63 694.14H247.63V688.32H244.63ZM247.64 694.14H250.64V688.32H247.64ZM250.65 694.14H253.65V688.32H250.65ZM253.67 677.64H256.67V667.79H253.67ZM256.68 687.78H259.68V680.63H256.68ZM259.69 694.14H262.69V688.32H259.69ZM262.70 687.78H265.70V680.63H262.70ZM265.71 687.78H268.71V680.63H265.71ZM268.72 694.14H271.72V688.32H268.72ZM271.74 694.14H274.74V688.32H271.74ZM274.75 694.14H277.75V688.32H274.75ZM277.76 694.14H280.76V688.32H277.76ZM280.77 694.14H283.77V688.32H280.77ZM283.78 688.36H286.78V681.59H283.78ZM286.79 689.78H289.79V683.96H286.79ZM289.80 678.28H292.80V668.86H289.80ZM292.82 694.14H295.82V688.32H292.82ZM295.83 694.14H298.83V688.32H295.83ZM298.84 680.39H301.84V672.37H298.84ZM301.85 694.14H304.85V688.32H301.85ZM304.86 694.14H307.86V688.32H304.86ZM307.87 694.14H310.87V688.32H307.87ZM310.89 694.14H313.89V688.32H310.89ZM313.90 662.77H316.90V656.41H313.90ZM316.91 694.14H319.91V688.32H316.91ZM319.92 694.14H322.92V688.32H319.92ZM322.93 654.93H325.93V640.37H322.93ZM325.94 694.14H328.94V688.32H325.94ZM328.96 694.14H331.96V688.32H328.96ZM331.97 654.93H334.97V640.37H331.97ZM334.98 687.78H337.98V680.63H334.98ZM337.99 694.14H340.99V688.32H337.99ZM341.00 694.14H344.00V688.32H341.00ZM344.01 689.78H347.01V683.96H344.01ZM347.03 679.71H350.03V671.24H347.03ZM350.04 694.14H353.04V688.32H350.04ZM353.05 694.14H356.05V688.32H353.05ZM356.06 662.77H359.06V652.66H356.06ZM359.07 681.98H362.07V675.03H359.07ZM362.08 694.14H365.08V688.32H362.08ZM365.09 694.14H368.09V688.32H365.09ZM368.11 694.14H371.11V688.32H368.11ZM371.12 694.14H374.12V688.32H371.12ZM374.13 688.12H377.13V681.19H374.13ZM377.14 677.64H380.14V667.79H377.14ZM380.15 689.78H383.15V683.96H380.15ZM383.16 694.14H386.16V688.32H383.16ZM386.18 694.14H389.18V688.32H386.18ZM389.19 654.93H392.19V640.37H389.19ZM392.20 687.78H395.20V680.63H392.20ZM395.21 662.77H398.21V652.66H395.21ZM398.22 694.14H401.22V688.32H398.22ZM401.23 589.56H404.23V560.54H401.23ZM404.25 694.14H407.25V688.32H404.25ZM407.26 694.14H410.26V688.32H407.26ZM410.27 687.78H413.27V680.63H410.27ZM413.28 681.37H416.28V674.01H413.28ZM416.29 694.14H419.29V688.32H416.29ZM419.30 694.14H422.30V688.32H419.30ZM422.32 694.14H425.32V688.32H422.32ZM425.33 654.93H428.33V640.37H425.33ZM428.34 677.64H431.34V667.79H428.34ZM431.35 694.14H434.35V688.32H431.35ZM434.36 694.14H437.36V688.32H434.36ZM437.37 694.14H440.37V688.32H437.37ZM440.38 694.14H443.38V688.32H440.38ZM443.40 681.37H446.40V674.01H443.40ZM446.41 694.14H449.41V688.32H446.41ZM449.42 694.14H452.42V688.32H449.42ZM452.43 694.14H455.43V688.32H452.43ZM455.44 694.14H458.44V688.32H455.44ZM458.45 694.14H461.45V688.32H458.45ZM461.47 694.14H464.47V688.32H461.47ZM464.48 694.14H467.48V688.32H464.48ZM467.49 680.05H470.49V671.81H467.49ZM470.50 694.14H473.50V688.32H470.50ZM473.51 694.14H476.51V688.32H473.51ZM476.52 688.73H479.52V682.21H476.52ZM479.54 694.14H482.54V688.32H479.54ZM482.55 677.64H485.55V667.79H482.55ZM485.56 694.14H488.56V688.32H485.56ZM488.57 694.14H491.57V688.32H488.57ZM491.58 694.14H494.58V688.32H491.58ZM494.59 694.14H497.59V688.32H494.59ZM497.61 694.14H500.61V688.32H497.61ZM500.62 688.12H503.62V681.19H500.62ZM503.63 694.14H506.63V688.32H503.63ZM506.64 689.78H509.64V683.96H506.64ZM509.65 694.14H512.65V688.32H509.65ZM512.66 589.56H515.66V560.54H512.66ZM515.67 694.14H518.67V688.32H515.67ZM518.69 678.28H521.69V668.86H518.69ZM521.70 662.77H524.70V653.19H521.70ZM524.71 681.98H527.71V675.03H524.71ZM527.72 694.14H530.72V688.32H527.72ZM530.73 687.78H533.73V680.63H530.73ZM533.74 694.14H536.74V688.32H533.74ZM536.76 589.56H539.76V560.54H536.76ZM539.77 687.78H542.77V680.63H539.77ZM542.78 694.14H545.78V688.32H542.78ZM545.79 694.14H548.79V688.32H545.79ZM548.80 689.78H551.80V683.96H548.80ZM551.81 689.78H554.81V683.96H551.81ZM554.83 694.14H557.83V688.32H554.83ZM557.84 694.14H560.84V688.32H557.84ZM560.85 694.14H563.85V688.32H560.85ZM563.86 683.27H566.86V677.18H563.86ZM566.87 689.78H569.87V683.96H566.87ZM569.88 694.14H572.88V688.32H569.88ZM572.90 694.14H575.90V688.32H572.90ZM575.91 687.78H578.91V680.63H575.91ZM578.92 694.14H581.92V688.32H578.92ZM581.93 689.78H584.93V683.96H581.93ZM584.94 694.14H587.94V688.32H584.94ZM587.95 694.14H590.95V688.32H587.95ZM590.96 687.78H593.96V680.63H590.96ZM593.98 694.14H596.98V688.32H593.98ZM596.99 694.14H599.99V688.32H596.99ZM600.00 694.14H603.00V688.32H600.00ZM603.01 694.14H606.01V688.32H603.01ZM606.02 687.78H609.02V680.63H606.02ZM609.03 677.64H612.03V667.79H609.03ZM612.05 694.14H615.05V688.32H612.05ZM615.06 654.93H618.06V640.37H615.06ZM618.07 683.27H621.07V677.18H618.07ZM621.08 694.14H624.08V688.32H621.08ZM624.09 662.77H627.09V655.80H624.09ZM627.10 694.14H630.10V688.32H627.10ZM630.12 682.22H633.12V675.43H630.12ZM633.13 694.14H636.13V688.32H633.13ZM636.14 654.93H639.14V640.37H636.14ZM639.15 689.78H642.15V683.96H639.15ZM642.16 694.14H645.16V688.32H642.16ZM645.17 694.14H648.17V688.32H645.17ZM648.19 689.78H651.19V683.96H648.19ZM651.20 694.14H654.20V688.32H651.20ZM654.21 682.22H657.21V675.43H654.21Z" fill="#98b954" fill-opacity="0.16"/>
<path d="M54.90 683.96H57.90V679.60H54.90ZM57.91 675.03H60.91V669.82H57.91ZM60.92 688.32H63.92V683.96H60.92ZM63.93 560.54H66.93V538.75H63.93ZM66.95 683.96H69.95V679.60H66.95ZM69.96 680.63H72.96V675.26H69.96ZM72.97 677.18H75.97V672.62H72.97ZM75.98 640.37H78.98V629.48H75.98ZM78.99 681.59H81.99V676.51H78.99ZM82.00 672.14H85.00V666.45H82.00ZM85.02 688.32H88.02V683.96H85.02ZM88.03 688.32H91.03V683.96H88.03ZM91.04 671.47H94.04V665.19H91.04ZM94.05 575.00H97.05V564.11H94.05ZM97.06 671.47H100.06V665.19H97.06ZM100.07 681.19H103.07V676.00H100.07ZM103.09 670.90H106.09V664.45H103.09ZM106.10 683.96H109.10V679.60H106.10ZM109.11 688.32H112.11V683.96H109.11ZM112.12 668.86H115.12V661.80H112.12ZM115.13 688.32H118.13V683.96H115.13ZM118.14 688.32H121.14V683.96H118.14ZM121.16 688.32H124.16V683.96H121.16ZM124.17 688.32H127.17V683.96H124.17ZM127.18 677.18H130.18V672.62H127.18ZM130.19 680.63H133.19V675.26H130.19ZM133.20 680.63H136.20V675.26H133.20ZM136.21 680.63H139.21V675.26H136.21ZM139.22 667.79H142.22V660.40H139.22ZM142.24 688.32H145.24V683.96H142.24ZM145.25 688.32H148.25V683.96H145.25ZM148.26 688.32H151.26V683.96H148.26ZM151.27 645.87H154.27V640.98H151.27ZM154.28 680.63H157.28V675.26H154.28ZM157.29 688.32H160.29V683.96H157.29ZM160.31 658.42H163.31V654.06H160.31ZM163.32 680.63H166.32V675.26H163.32ZM166.33 640.37H169.33V629.48H166.33ZM169.34 688.32H172.34V683.96H169.34ZM172.35 688.32H175.35V683.96H172.35ZM175.36 667.79H178.36V660.40H175.36ZM178.38 688.32H181.38V683.96H178.38ZM181.39 658.42H184.39V654.93H181.39ZM184.40 652.66H187.40V647.96H184.40ZM187.41 688.32H190.41V683.96H187.41ZM190.42 688.32H193.42V683.96H190.42ZM193.43 688.32H196.43V683.96H193.43ZM196.45 652.66H199.45V646.48H196.45ZM199.46 688.32H202.46V683.96H199.46ZM202.47 688.32H205.47V683.96H202.47ZM205.48 688.32H208.48V683.96H205.48ZM208.49 674.01H211.49V668.50H208.49ZM211.50 683.96H214.50V679.60H211.50ZM214.51 640.37H217.51V629.48H214.51ZM217.53 677.18H220.53V672.62H217.53ZM220.54 681.59H223.54V676.51H220.54ZM223.55 680.63H226.55V675.26H223.55ZM226.56 680.63H229.56V675.26H226.56ZM229.57 683.96H232.57V679.60H229.57ZM232.58 688.32H235.58V683.96H232.58ZM235.60 680.63H238.60V675.26H235.60ZM238.61 688.32H241.61V683.96H238.61ZM241.62 680.63H244.62V675.26H241.62ZM244.63 688.32H247.63V683.96H244.63ZM247.64 688.32H250.64V683.96H247.64ZM250.65 688.32H253.65V683.96H250.65ZM253.67 667.79H256.67V660.40H253.67ZM256.68 680.63H259.68V675.26H256.68ZM259.69 688.32H262.69V683.96H259.69ZM262.70 680.63H265.70V675.26H262.70ZM265.71 680.63H268.71V675.26H265.71ZM268.72 688.32H271.72V683.96H268.72ZM271.74 688.32H274.74V683.96H271.74ZM274.75 688.32H277.75V683.96H274.75ZM277.76 688.32H280.76V683.96H277.76ZM280.77 688.32H283.77V683.96H280.77ZM283.78 681.59H286.78V676.51H283.78ZM286.79 683.96H289.79V679.60H286.79ZM289.80 668.86H292.80V661.80H289.80ZM292.82 688.32H295.82V683.96H292.82ZM295.83 688.32H298.83V683.96H295.83ZM298.84 672.37H301.84V666.36H298.84ZM301.85 688.32H304.85V683.96H301.85ZM304.86 688.32H307.86V683.96H304.86ZM307.87 688.32H310.87V683.96H307.87ZM310.89 688.32H313.89V683.96H310.89ZM313.90 656.41H316.90V652.05H313.90ZM316.91 688.32H319.91V683.96H316.91ZM319.92 688.32H322.92V683.96H319.92ZM322.93 640.37H325.93V629.48H322.93ZM325.94 688.32H328.94V683.96H325.94ZM328.96 688.32H331.96V683.96H328.96ZM331.97 640.37H334.97V629.48H331.97ZM334.98 680.63H337.98V675.26H334.98ZM337.99 688.32H340.99V683.96H337.99ZM341.00 688.32H344.00V683.96H341.00ZM344.01 683.96H347.01V679.60H344.01ZM347.03 671.24H350.03V664.89H347.03ZM350.04 688.32H353.04V683.96H350.04ZM353.05 688.32H356.05V683.96H353.05ZM356.06 652.66H359.06V647.96H356.06ZM359.07 675.03H362.07V669.82H359.07ZM362.08 688.32H365.08V683.96H362.08ZM365.09 688.32H368.09V683.96H365.09ZM368.11 688.32H371.11V683.96H368.11ZM371.12 688.32H374.12V683.96H371.12ZM374.13 681.19H377.13V676.00H374.13ZM377.14 667.79H380.14V660.40H377.14ZM380.15 683.96H383.15V679.60H380.15ZM383.16 688.32H386.16V683.96H383.16ZM386.18 688.32H389.18V683.96H386.18ZM389.19 640.37H392.19V629.48H389.19ZM392.20 680.63H395.20V675.26H392.20ZM395.21 652.66H398.21V647.96H395.21ZM398.22 688.32H401.22V683.96H398.22ZM401.23 560.54H404.23V538.75H401.23ZM404.25 688.32H407.25V683.96H404.25ZM407.26 688.32H410.26V683.96H407.26ZM410.27 680.63H413.27V675.26H410.27ZM413.28 674.01H416.28V668.50H413.28ZM416.29 688.32H419.29V683.96H416.29ZM419.30 688.32H422.30V683.96H419.30ZM422.32 688.32H425.32V683.96H422.32ZM425.33 640.37H428.33V630.53H425.33ZM428.34 667.79H431.34V660.40H428.34ZM431.35 688.32H434.35V683.96H431.35ZM434.36 688.32H437.36V683.96H434.36ZM437.37 688.32H440.37V683.96H437.37ZM440.38 688.32H443.38V683.96H440.38ZM443.40 674.01H446.40V668.50H443.40ZM446.41 688.32H449.41V683.96H446.41ZM449.42 688.32H452.42V683.96H449.42ZM452.43 688.32H455.43V683.96H452.43ZM455.44 688.32H458.44V683.96H455.44ZM458.45 688.32H461.45V683.96H458.45ZM461.47 688.32H464.47V683.96H461.47ZM464.48 688.32H467.48V683.96H464.48ZM467.49 671.81H470.49V665.63H467.49ZM470.50 688.32H473.50V683.96H470.50ZM473.51 688.32H476.51V683.96H473.51ZM476.52 682.21H479.52V677.32H476.52ZM479.54 688.32H482.54V683.96H479.54ZM482.55 667.79H485.55V660.40H482.55ZM485.56 688.32H488.56V683.96H485.56ZM488.57 688.32H491.57V683.96H488.57ZM491.58 688.32H494.58V683.96H491.58ZM494.59 688.32H497.59V683.96H494.59ZM497.61 688.32H500.61V683.96H497.61ZM500.62 681.19H503.62V676.00H500.62ZM503.63 688.32H506.63V683.96H503.63ZM506.64 683.96H509.64V679.60H506.64ZM509.65 688.32H512.65V683.96H509.65ZM512.66 560.54H515.66V538.75H512.66ZM515.67 688.32H518.67V683.96H515.67ZM518.69 668.86H521.69V661.80H518.69ZM521.70 653.19H524.70V645.87H521.70ZM524.71 675.03H527.71V669.82H524.71ZM527.72 688.32H530.72V683.96H527.72ZM530.73 680.63H533.73V675.26H530.73ZM533.74 688.32H536.74V683.96H533.74ZM536.76 560.54H539.76V538.75H536.76ZM539.77 680.63H542.77V675.26H539.77ZM542.78 688.32H545.78V683.96H542.78ZM545.79 688.32H548.79V683.96H545.79ZM548.80 683.96H551.80V679.60H548.80ZM551.81 683.96H554.81V679.60H551.81ZM554.83 688.32H557.83V683.96H554.83ZM557.84 688.32H560.84V683.96H557.84ZM560.85 688.32H563.85V683.96H560.85ZM563.86 677.18H566.86V672.62H563.86ZM566.87 683.96H569.87V679.60H566.87ZM569.88 688.32H572.88V683.96H569.88ZM572.90 688.32H575.90V683.96H572.90ZM575.91 680.63H578.91V675.26H575.91ZM578.92 688.32H581.92V683.96H578.92ZM581.93 683.96H584.93V679.60H581.93ZM584.94 688.32H587.94V683.96H584.94ZM587.95 688.32H590.95V683.96H587.95ZM590.96 680.63H593.96V675.26H590.96ZM593.98 688.32H596.98V683.96H593.98ZM596.99 688.32H599.99V683.96H596.99ZM600.00 688.32H603.00V683.96H600.00ZM603.01 688.32H606.01V683.96H603.01ZM606.02 680.63H609.02V675.26H606.02ZM609.03 667.79H612.03V660.40H609.03ZM612.05 688.32H615.05V683.96H612.05ZM615.06 640.37H618.06V629.48H615.06ZM618.07 677.18H621.07V672.62H618.07ZM621.08 688.32H624.08V683.96H621.08ZM624.09 655.80H627.09V650.83H624.09ZM627.10 688.32H630.10V683.96H627.10ZM630.12 675.43H633.12V670.34H630.12ZM633.13 688.32H636.13V683.96H633.13ZM636.14 640.37H639.14V629.48H636.14ZM639.15 683.96H642.15V679.60H639.15ZM642.16 688.32H645.16V683.96H642.16ZM645.17 688.32H648.17V683.96H645.17ZM648.19 683.96H651.19V679.60H648.19ZM651.20 688.32H654.20V683.96H651.20ZM654.21 675.43H657.21V670.34H654.21Z" fill="#7d60a0" fill-opacity="0.16"/>
<path d="M54.90 679.60H57.90V676.11H54.90ZM57.91 669.82H60.91V665.65H57.91ZM60.92 683.96H63.92V680.47H60.92ZM63.93 538.75H66.93V530.03H63.93ZM66.95 679.60H69.95V676.11H66.95ZM69.96 675.26H72.96V670.97H69.96ZM72.97 672.62H75.97V668.96H72.97ZM75.98 629.48H78.98V620.07H75.98ZM78.99 676.51H81.99V672.45H78.99ZM82.00 666.45H85.00V661.90H82.00ZM85.02 683.96H88.02V680.47H85.02ZM88.03 683.96H91.03V680.47H88.03ZM91.04 665.19H94.04V660.16H91.04ZM94.05 564.11H97.05V554.70H94.05ZM97.06 665.19H100.06V660.16H97.06ZM100.07 676.00H103.07V671.84H100.07ZM103.09 664.45H106.09V659.29H103.09ZM106.10 679.60H109.10V676.11H106.10ZM109.11 683.96H112.11V680.47H109.11ZM112.12 661.80H115.12V656.15H112.12ZM115.13 683.96H118.13V680.47H115.13ZM118.14 683.96H121.14V680.47H118.14ZM121.16 683.96H124.16V680.47H121.16ZM124.17 683.96H127.17V680.47H124.17ZM127.18 672.62H130.18V668.96H127.18ZM130.19 675.26H133.19V670.97H130.19ZM133.20 675.26H136.20V670.97H133.20ZM136.21 675.26H139.21V670.97H136.21ZM139.22 660.40H142.22V654.49H139.22ZM142.24 683.96H145.24V680.47H142.24ZM145.25 683.96H148.25V680.47H145.25ZM148.26 683.96H151.26V680.47H148.26ZM151.27 640.98H154.27V636.36H151.27ZM154.28 675.26H157.28V670.97H154.28ZM157.29 683.96H160.29V680.47H157.29ZM160.31 654.06H163.31V649.26H160.31ZM163.32 675.26H166.32V670.97H163.32ZM166.33 629.48H169.33V620.07H166.33ZM169.34 683.96H172.34V680.47H169.34ZM172.35 683.96H175.35V680.47H172.35ZM175.36 660.40H178.36V654.49H175.36ZM178.38 683.96H181.38V680.47H178.38ZM181.39 654.93H184.39V651.18H181.39ZM184.40 647.96H187.40V643.42H184.40ZM187.41 683.96H190.41V680.47H187.41ZM190.42 683.96H193.42V680.47H190.42ZM193.43 683.96H196.43V680.47H193.43ZM196.45 646.48H199.45V641.51H196.45ZM199.46 683.96H202.46V680.47H199.46ZM202.47 683.96H205.47V680.47H202.47ZM205.48 683.96H208.48V680.47H205.48ZM208.49 668.50H211.49V664.08H208.49ZM211.50 679.60H214.50V676.11H211.50ZM214.51 629.48H217.51V620.07H214.51ZM217.53 672.62H220.53V668.96H217.53ZM220.54 676.51H223.54V672.45H220.54ZM223.55 675.26H226.55V670.97H223.55ZM226.56 675.26H229.56V670.97H226.56ZM229.57 679.60H232.57V676.11H229.57ZM232.58 683.96H235.58V680.47H232.58ZM235.60 675.26H238.60V670.97H235.60ZM238.61 683.96H241.61V680.47H238.61ZM241.62 675.26H244.62V670.97H241.62ZM244.63 683.96H247.63V680.47H244.63ZM247.64 683.96H250.64V680.47H247.64ZM250.65 683.96H253.65V680.47H250.65ZM253.67 660.40H256.67V654.49H253.67ZM256.68 675.26H259.68V670.97H256.68ZM259.69 683.96H262.69V680.47H259.69ZM262.70 675.26H265.70V670.97H262.70ZM265.71 675.26H268.71V670.97H265.71ZM268.72 683.96H271.72V680.47H268.72ZM271.74 683.96H274.74V680.47H271.74ZM274.75 683.96H277.75V680.47H274.75ZM277.76 683.96H280.76V680.47H277.76ZM280.77 683.96H283.77V680.47H280.77ZM283.78 676.51H286.78V672.45H283.78ZM286.79 679.60H289.79V676.11H286.79ZM289.80 661.80H292.80V656.15H289.80ZM292.82 683.96H295.82V680.47H292.82ZM295.83 683.96H298.83V680.47H295.83ZM298.84 666.36H301.84V661.55H298.84ZM301.85 683.96H304.85V680.47H301.85ZM304.86 683.96H307.86V680.47H304.86ZM307.87 683.96H310.87V680.47H307.87ZM310.89 683.96H313.89V680.47H310.89ZM313.90 652.05H316.90V648.74H313.90ZM316.91 683.96H319.91V680.47H316.91ZM319.92 683.96H322.92V680.47H319.92ZM322.93 629.48H325.93V620.07H322.93ZM325.94 683.96H328.94V680.47H325.94ZM328.96 683.96H331.96V680.47H328.96ZM331.97 629.48H334.97V620.07H331.97ZM334.98 675.26H337.98V670.97H334.98ZM337.99 683.96H340.99V680.47H337.99ZM341.00 683.96H344.00V680.47H341.00ZM344.01 679.60H347.01V676.11H344.01ZM347.03 664.89H350.03V659.81H347.03ZM350.04 683.96H353.04V680.47H350.04ZM353.05 683.96H356.05V680.47H353.05ZM356.06 647.96H359.06V643.42H356.06ZM359.07 669.82H362.07V665.65H359.07ZM362.08 683.96H365.08V680.47H362.08ZM365.09 683.96H368.09V680.47H365.09ZM368.11 683.96H371.11V680.47H368.11ZM371.12 683.96H374.12V680.47H371.12ZM374.13 676.00H377.13V671.84H374.13ZM377.14 660.40H380.14V654.49H377.14ZM380.15 679.60H383.15V676.11H380.15ZM383.16 683.96H386.16V680.47H383.16ZM386.18 683.96H389.18V680.47H386.18ZM389.19 629.48H392.19V620.07H389.19ZM392.20 675.26H395.20V670.97H392.20ZM395.21 647.96H398.21V643.42H395.21ZM398.22 683.96H401.22V680.47H398.22ZM401.23 538.75H404.23V521.31H401.23ZM404.25 683.96H407.25V680.47H404.25ZM407.26 683.96H410.26V680.47H407.26ZM410.27 675.26H413.27V670.97H410.27ZM413.28 668.50H416.28V664.08H413.28ZM416.29 683.96H419.29V680.47H416.29ZM419.30 683.96H422.30V680.47H419.30ZM422.32 683.96H425.32V680.47H422.32ZM425.33 630.53H428.33V622.68H425.33ZM428.34 660.40H431.34V654.49H428.34ZM431.35 683.96H434.35V680.47H431.35ZM434.36 683.96H437.36V680.47H434.36ZM437.37 683.96H440.37V680.47H437.37ZM440.38 683.96H443.38V680.47H440.38ZM443.40 668.50H446.40V664.08H443.40ZM446.41 683.96H449.41V680.47H446.41ZM449.42 683.96H452.42V680.47H449.42ZM452.43 683.96H455.43V680.47H452.43ZM455.44 683.96H458.44V680.47H455.44ZM458.45 683.96H461.45V680.47H458.45ZM461.47 683.96H464.47V680.47H461.47ZM464.48 683.96H467.48V680.47H464.48ZM467.49 665.63H470.49V660.68H467.49ZM470.50 683.96H473.50V680.47H470.50ZM473.51 683.96H476.51V680.47H473.51ZM476.52 677.32H479.52V673.41H476.52ZM479.54 683.96H482.54V680.47H479.54ZM482.55 660.40H485.55V654.49H482.55ZM485.56 683.96H488.56V680.47H485.56ZM488.57 683.96H491.57V680.47H488.57ZM491.58 683.96H494.58V680.47H491.58ZM494.59 683.96H497.59V680.47H494.59ZM497.61 683.96H500.61V680.47H497.61ZM500.62 676.00H503.62V671.84H500.62ZM503.63 683.96H506.63V680.47H503.63ZM506.64 679.60H509.64V676.11H506.64ZM509.65 683.96H512.65V680.47H509.65ZM512.66 538.75H515.66V521.31H512.66ZM515.67 683.96H518.67V680.47H515.67ZM518.69 661.80H521.69V656.15H518.69ZM521.70 645.87H524.70V639.68H521.70ZM524.71 669.82H527.71V665.65H524.71ZM527.72 683.96H530.72V680.47H527.72ZM530.73 675.26H533.73V670.97H530.73ZM533.74 683.96H536.74V680.47H533.74ZM536.76 538.75H539.76V521.31H536.76ZM539.77 675.26H542.77V670.97H539.77ZM542.78 683.96H545.78V680.47H542.78ZM545.79 683.96H548.79V680.47H545.79ZM548.80 679.60H551.80V676.11H548.80ZM551.81 679.60H554.81V676.11H551.81ZM554.83 683.96H557.83V680.47H554.83ZM557.84 683.96H560.84V680.47H557.84ZM560.85 683.96H563.85V680.47H560.85ZM563.86 672.62H566.86V668.96H563.86ZM566.87 679.60H569.87V676.11H566.87ZM569.88 683.96H572.88V680.47H569.88ZM572.90 683.96H575.90V680.47H572.90ZM575.91 675.26H578.91V670.97H575.91ZM578.92 683.96H581.92V680.47H578.92ZM581.93 679.60H584.93V676.11H581.93ZM584.94 683.96H587.94V680.47H584.94ZM587.95 683.96H590.95V680.47H587.95ZM590.96 675.26H593.96V670.97H590.96ZM593.98 683.96H596.98V680.47H593.98ZM596.99 683.96H599.99V680.47H596.99ZM600.00 683.96H603.00V680.47H600.00ZM603.01 683.96H606.01V680.47H603.01ZM606.02 675.26H609.02V670.97H606.02ZM609.03 660.40H612.03V654.49H609.03ZM612.05 683.96H615.05V680.47H612.05ZM615.06 629.48H618.06V620.07H615.06ZM618.07 672.62H621.07V668.96H618.07ZM621.08 683.96H624.08V680.47H621.08ZM624.09 650.83H627.09V646.48H624.09ZM627.10 683.96H630.10V680.47H627.10ZM630.12 670.34H633.12V666.26H630.12ZM633.13 683.96H636.13V680.47H633.13ZM636.14 629.48H639.14V620.07H636.14ZM639.15 679.60H642.15V676.11H639.15ZM642.16 683.96H645.16V680.47H642.16ZM645.17 683.96H648.17V680.47H645.17ZM648.19 679.60H651.19V676.11H648.19ZM651.20 683.96H654.20V680.47H651.20ZM654.21 670.34H657.21V666.26H654.21Z" fill="#46aac5" fill-opacity="0.16"/>
<path d="M55.82 720.30H56.98V698.51H55.82ZM58.83 720.30H59.99V692.41H58.83ZM61.84 720.30H63.00V702.87H61.84ZM64.85 720.30H66.01V633.14H64.85ZM67.87 720.30H69.03V698.51H67.87ZM70.88 720.30H72.04V698.51H70.88ZM73.89 720.30H75.05V692.41H73.89ZM76.90 720.30H78.06V676.72H76.90ZM79.91 720.30H81.07V698.51H79.91ZM82.92 720.30H84.08V691.10H82.92ZM85.94 720.30H87.10V702.87H85.94ZM88.95 720.30H90.11V702.87H88.95ZM91.96 720.30H93.12V692.41H91.96ZM94.97 720.30H96.13V633.14H94.97ZM97.98 720.30H99.14V692.41H97.98ZM100.99 720.30H102.15V698.51H100.99ZM104.01 720.30H105.17V692.41H104.01ZM107.02 720.30H108.18V698.51H107.02ZM110.03 720.30H111.19V702.87H110.03ZM113.04 720.30H114.20V692.41H113.04ZM116.05 720.30H117.21V702.87H116.05ZM119.06 720.30H120.22V702.87H119.06ZM122.08 720.30H123.24V702.87H122.08ZM125.09 720.30H126.25V702.87H125.09ZM128.10 720.30H129.26V692.41H128.10ZM131.11 720.30H132.27V698.51H131.11ZM134.12 720.30H135.28V698.51H134.12ZM137.13 720.30H138.29V698.51H137.13ZM140.14 720.30H141.30V692.41H140.14ZM143.16 720.30H144.32V702.87H143.16ZM146.17 720.30H147.33V702.87H146.17ZM149.18 720.30H150.34V702.87H149.18ZM152.19 720.30H153.35V676.72H152.19ZM155.20 720.30H156.36V698.51H155.20ZM158.21 720.30H159.37V702.87H158.21ZM161.23 720.30H162.39V676.72H161.23ZM164.24 720.30H165.40V698.51H164.24ZM167.25 720.30H168.41V676.72H167.25ZM170.26 720.30H171.42V702.87H170.26ZM173.27 720.30H174.43V702.87H173.27ZM176.28 720.30H177.44V692.41H176.28ZM179.30 720.30H180.46V702.87H179.30ZM182.31 720.30H183.47V676.72H182.31ZM185.32 720.30H186.48V676.72H185.32ZM188.33 720.30H189.49V702.87H188.33ZM191.34 720.30H192.50V702.87H191.34ZM194.35 720.30H195.51V702.87H194.35ZM197.37 720.30H198.53V676.72H197.37ZM200.38 720.30H201.54V702.87H200.38ZM203.39 720.30H204.55V702.87H203.39ZM206.40 720.30H207.56V702.87H206.40ZM209.41 720.30H210.57V692.41H209.41ZM212.42 720.30H213.58V698.51H212.42ZM215.43 720.30H216.59V676.72H215.43ZM218.45 720.30H219.61V692.41H218.45ZM221.46 720.30H222.62V698.51H221.46ZM224.47 720.30H225.63V698.51H224.47ZM227.48 720.30H228.64V698.51H227.48ZM230.49 720.30H231.65V698.51H230.49ZM233.50 720.30H234.66V702.87H233.50ZM236.52 720.30H237.68V698.51H236.52ZM239.53 720.30H240.69V702.87H239.53ZM242.54 720.30H243.70V698.51H242.54ZM245.55 720.30H246.71V702.87H245.55ZM248.56 720.30H249.72V702.87H248.56ZM251.57 720.30H252.73V702.87H251.57ZM254.59 720.30H255.75V692.41H254.59ZM257.60 720.30H258.76V698.51H257.60ZM260.61 720.30H261.77V702.87H260.61ZM263.62 720.30H264.78V698.51H263.62ZM266.63 720.30H267.79V698.51H266.63ZM269.64 720.30H270.80V702.87H269.64ZM272.66 720.30H273.82V702.87H272.66ZM275.67 720.30H276.83V702.87H275.67ZM278.68 720.30H279.84V702.87H278.68ZM281.69 720.30H282.85V702.87H281.69ZM284.70 720.30H285.86V698.51H284.70ZM287.71 720.30H288.87V698.51H287.71ZM290.72 720.30H291.88V692.41H290.72ZM293.74 720.30H294.90V702.87H293.74ZM296.75 720.30H297.91V702.87H296.75ZM299.76 720.30H300.92V692.41H299.76ZM302.77 720.30H303.93V702.87H302.77ZM305.78 720.30H306.94V702.87H305.78ZM308.79 720.30H309.95V702.87H308.79ZM311.81 720.30H312.97V702.87H311.81ZM314.82 720.30H315.98V676.72H314.82ZM317.83 720.30H318.99V702.87H317.83ZM320.84 720.30H322.00V702.87H320.84ZM323.85 720.30H325.01V676.72H323.85ZM326.86 720.30H328.02V702.87H326.86ZM329.88 720.30H331.04V702.87H329.88ZM332.89 720.30H334.05V676.72H332.89ZM335.90 720.30H337.06V698.51H335.90ZM338.91 720.30H340.07V702.87H338.91ZM341.92 720.30H343.08V702.87H341.92ZM344.93 720.30H346.09V698.51H344.93ZM347.95 720.30H349.11V692.41H347.95ZM350.96 720.30H352.12V702.87H350.96ZM353.97 720.30H355.13V702.87H353.97ZM356.98 720.30H358.14V676.72H356.98ZM359.99 720.30H361.15V692.41H359.99ZM363.00 720.30H364.16V702.87H363.00ZM366.01 720.30H367.17V702.87H366.01ZM369.03 720.30H370.19V702.87H369.03ZM372.04 720.30H373.20V702.87H372.04ZM375.05 720.30H376.21V698.51H375.05ZM378.06 720.30H379.22V692.41H378.06ZM381.07 720.30H382.23V698.51H381.07ZM384.08 720.30H385.24V702.87H384.08ZM387.10 720.30H388.26V702.87H387.10ZM390.11 720.30H391.27V676.72H390.11ZM393.12 720.30H394.28V698.51H393.12ZM396.13 720.30H397.29V676.72H396.13ZM399.14 720.30H400.30V702.87H399.14ZM402.15 720.30H403.31V633.14H402.15ZM405.17 720.30H406.33V702.87H405.17ZM408.18 720.30H409.34V702.87H408.18ZM411.19 720.30H412.35V698.51H411.19ZM414.20 720.30H415.36V692.41H414.20ZM417.21 720.30H418.37V702.87H417.21ZM420.22 720.30H421.38V702.87H420.22ZM423.24 720.30H424.40V702.87H423.24ZM426.25 720.30H427.41V676.72H426.25ZM429.26 720.30H430.42V692.41H429.26ZM432.27 720.30H433.43V702.87H432.27ZM435.28 720.30H436.44V702.87H435.28ZM438.29 720.30H439.45V702.87H438.29ZM441.30 720.30H442.46V702.87H441.30ZM444.32 720.30H445.48V692.41H444.32ZM447.33 720.30H448.49V702.87H447.33ZM450.34 720.30H451.50V702.87H450.34ZM453.35 720.30H454.51V702.87H453.35ZM456.36 720.30H457.52V702.87H456.36ZM459.37 720.30H460.53V702.87H459.37ZM462.39 720.30H463.55V702.87H462.39ZM465.40 720.30H466.56V702.87H465.40ZM468.41 720.30H469.57V692.41H468.41ZM471.42 720.30H472.58V702.87H471.42ZM474.43 720.30H475.59V702.87H474.43ZM477.44 720.30H478.60V698.51H477.44ZM480.46 720.30H481.62V702.87H480.46ZM483.47 720.30H484.63V692.41H483.47ZM486.48 720.30H487.64V702.87H486.48ZM489.49 720.30H490.65V702.87H489.49ZM492.50 720.30H493.66V702.87H492.50ZM495.51 720.30H496.67V702.87H495.51ZM498.53 720.30H499.69V702.87H498.53ZM501.54 720.30H502.70V698.51H501.54ZM504.55 720.30H505.71V702.87H504.55ZM507.56 720.30H508.72V698.51H507.56ZM510.57 720.30H511.73V702.87H510.57ZM513.58 720.30H514.74V633.14H513.58ZM516.59 720.30H517.75V702.87H516.59ZM519.61 720.30H520.77V692.41H519.61ZM522.62 720.30H523.78V676.72H522.62ZM525.63 720.30H526.79V692.41H525.63ZM528.64 720.30H529.80V702.87H528.64ZM531.65 720.30H532.81V698.51H531.65ZM534.66 720.30H535.82V702.87H534.66ZM537.68 720.30H538.84V633.14H537.68ZM540.69 720.30H541.85V698.51H540.69ZM543.70 720.30H544.86V702.87H543.70ZM546.71 720.30H547.87V702.87H546.71ZM549.72 720.30H550.88V698.51H549.72ZM552.73 720.30H553.89V698.51H552.73ZM555.75 720.30H556.91V702.87H555.75ZM558.76 720.30H559.92V702.87H558.76ZM561.77 720.30H562.93V702.87H561.77ZM564.78 720.30H565.94V692.41H564.78ZM567.79 720.30H568.95V698.51H567.79ZM570.80 720.30H571.96V702.87H570.80ZM573.82 720.30H574.98V702.87H573.82ZM576.83 720.30H577.99V698.51H576.83ZM579.84 720.30H581.00V702.87H579.84ZM582.85 720.30H584.01V698.51H582.85ZM585.86 720.30H587.02V702.87H585.86ZM588.87 720.30H590.03V702.87H588.87ZM591.88 720.30H593.04V698.51H591.88ZM594.90 720.30H596.06V702.87H594.90ZM597.91 720.30H599.07V702.87H597.91ZM600.92 720.30H602.08V702.87H600.92ZM603.93 720.30H605.09V702.87H603.93ZM606.94 720.30H608.10V698.51H606.94ZM609.95 720.30H611.11V692.41H609.95ZM612.97 720.30H614.13V702.87H612.97ZM615.98 720.30H617.14V676.72H615.98ZM618.99 720.30H620.15V692.41H618.99ZM622.00 720.30H623.16V702.87H622.00ZM625.01 720.30H626.17V676.72H625.01ZM628.02 720.30H629.18V702.87H628.02ZM631.04 720.30H632.20V692.41H631.04ZM634.05 720.30H635.21V702.87H634.05ZM637.06 720.30H638.22V676.72H637.06ZM640.07 720.30H641.23V698.51H640.07ZM643.08 720.30H644.24V702.87H643.08ZM646.09 720.30H647.25V702.87H646.09ZM649.11 720.30H650.27V698.51H649.11ZM652.12 720.30H653.28V702.87H652.12ZM655.13 720.30H656.29V692.41H655.13Z" fill="#4a7ebb"/>
<path d="M55.82 698.51H56.98V689.78H55.82ZM58.83 692.41H59.99V681.98H58.83ZM61.84 702.87H63.00V694.14H61.84ZM64.85 633.14H66.01V589.56H64.85ZM67.87 698.51H69.03V689.78H67.87ZM70.88 698.51H72.04V687.78H70.88ZM73.89 692.41H75.05V683.27H73.89ZM76.90 676.72H78.06V654.93H76.90ZM79.91 698.51H81.07V688.36H79.91ZM82.92 691.10H84.08V679.73H82.92ZM85.94 702.87H87.10V694.14H85.94ZM88.95 702.87H90.11V694.14H88.95ZM91.96 692.41H93.12V679.84H91.96ZM94.97 633.14H96.13V589.56H94.97ZM97.98 692.41H99.14V679.84H97.98ZM100.99 698.51H102.15V688.12H100.99ZM104.01 692.41H105.17V679.50H104.01ZM107.02 698.51H108.18V689.78H107.02ZM110.03 702.87H111.19V694.14H110.03ZM113.04 692.41H114.20V678.28H113.04ZM116.05 702.87H117.21V694.14H116.05ZM119.06 702.87H120.22V694.14H119.06ZM122.08 702.87H123.24V694.14H122.08ZM125.09 702.87H126.25V694.14H125.09ZM128.10 692.41H129.26V683.27H128.10ZM131.11 698.51H132.27V687.78H131.11ZM134.12 698.51H135.28V687.78H134.12ZM137.13 698.51H138.29V687.78H137.13ZM140.14 692.41H141.30V677.64H140.14ZM143.16 702.87H144.32V694.14H143.16ZM146.17 702.87H147.33V694.14H146.17ZM149.18 702.87H150.34V694.14H149.18ZM152.19 676.72H153.35V655.80H152.19ZM155.20 698.51H156.36V687.78H155.20ZM158.21 702.87H159.37V694.14H158.21ZM161.23 676.72H162.39V666.26H161.23ZM164.24 698.51H165.40V687.78H164.24ZM167.25 676.72H168.41V654.93H167.25ZM170.26 702.87H171.42V694.14H170.26ZM173.27 702.87H174.43V694.14H173.27ZM176.28 692.41H177.44V677.64H176.28ZM179.30 702.87H180.46V694.14H179.30ZM182.31 676.72H183.47V665.65H182.31ZM185.32 676.72H186.48V662.77H185.32ZM188.33 702.87H189.49V694.14H188.33ZM191.34 702.87H192.50V694.14H191.34ZM194.35 702.87H195.51V694.14H194.35ZM197.37 676.72H198.53V662.77H197.37ZM200.38 702.87H201.54V694.14H200.38ZM203.39 702.87H204.55V694.14H203.39ZM206.40 702.87H207.56V694.14H206.40ZM209.41 692.41H210.57V681.37H209.41ZM212.42 698.51H213.58V689.78H212.42ZM215.43 676.72H216.59V654.93H215.43ZM218.45 692.41H219.61V683.27H218.45ZM221.46 698.51H222.62V688.36H221.46ZM224.47 698.51H225.63V687.78H224.47ZM227.48 698.51H228.64V687.78H227.48ZM230.49 698.51H231.65V689.78H230.49ZM233.50 702.87H234.66V694.14H233.50ZM236.52 698.51H237.68V687.78H236.52ZM239.53 702.87H240.69V694.14H239.53ZM242.54 698.51H243.70V687.78H242.54ZM245.55 702.87H246.71V694.14H245.55ZM248.56 702.87H249.72V694.14H248.56ZM251.57 702.87H252.73V694.14H251.57ZM254.59 692.41H255.75V677.64H254.59ZM257.60 698.51H258.76V687.78H257.60ZM260.61 702.87H261.77V694.14H260.61ZM263.62 698.51H264.78V687.78H263.62ZM266.63 698.51H267.79V687.78H266.63ZM269.64 702.87H270.80V694.14H269.64ZM272.66 702.87H273.82V694.14H272.66ZM275.67 702.87H276.83V694.14H275.67ZM278.68 702.87H279.84V694.14H278.68ZM281.69 702.87H282.85V694.14H281.69ZM284.70 698.51H285.86V688.36H284.70ZM287.71 698.51H288.87V689.78H287.71ZM290.72 692.41H291.88V678.28H290.72ZM293.74 702.87H294.90V694.14H293.74ZM296.75 702.87H297.91V694.14H296.75ZM299.76 692.41H300.92V680.39H299.76ZM302.77 702.87H303.93V694.14H302.77ZM305.78 702.87H306.94V694.14H305.78ZM308.79 702.87H309.95V694.14H308.79ZM311.81 702.87H312.97V694.14H311.81ZM314.82 676.72H315.98V662.77H314.82ZM317.83 702.87H318.99V694.14H317.83ZM320.84 702.87H322.00V694.14H320.84ZM323.85 676.72H325.01V654.93H323.85ZM326.86 702.87H328.02V694.14H326.86ZM329.88 702.87H331.04V694.14H329.88ZM332.89 676.72H334.05V654.93H332.89ZM335.90 698.51H337.06V687.78H335.90ZM338.91 702.87H340.07V694.14H338.91ZM341.92 702.87H343.08V694.14H341.92ZM344.93 698.51H346.09V689.78H344.93ZM347.95 692.41H349.11V679.71H347.95ZM350.96 702.87H352.12V694.14H350.96ZM353.97 702.87H355.13V694.14H353.97ZM356.98 676.72H358.14V662.77H356.98ZM359.99 692.41H361.15V681.98H359.99ZM363.00 702.87H364.16V694.14H363.00ZM366.01 702.87H367.17V694.14H366.01ZM369.03 702.87H370.19V694.14H369.03ZM372.04 702.87H373.20V694.14H372.04ZM375.05 698.51H376.21V688.12H375.05ZM378.06 692.41H379.22V677.64H378.06ZM381.07 698.51H382.23V689.78H381.07ZM384.08 702.87H385.24V694.14H384.08ZM387.10 702.87H388.26V694.14H387.10ZM390.11 676.72H391.27V654.93H390.11ZM393.12 698.51H394.28V687.78H393.12ZM396.13 676.72H397.29V662.77H396.13ZM399.14 702.87H400.30V694.14H399.14ZM402.15 633.14H403.31V589.56H402.15ZM405.17 702.87H406.33V694.14H405.17ZM408.18 702.87H409.34V694.14H408.18ZM411.19 698.51H412.35V687.78H411.19ZM414.20 692.41H415.36V681.37H414.20ZM417.21 702.87H418.37V694.14H417.21ZM420.22 702.87H421.38V694.14H420.22ZM423.24 702.87H424.40V694.14H423.24ZM426.25 676.72H427.41V654.93H426.25ZM429.26 692.41H430.42V677.64H429.26ZM432.27 702.87H433.43V694.14H432.27ZM435.28 702.87H436.44V694.14H435.28ZM438.29 702.87H439.45V694.14H438.29ZM441.30 702.87H442.46V694.14H441.30ZM444.32 692.41H445.48V681.37H444.32ZM447.33 702.87H448.49V694.14H447.33ZM450.34 702.87H451.50V694.14H450.34ZM453.35 702.87H454.51V694.14H453.35ZM456.36 702.87H457.52V694.14H456.36ZM459.37 702.87H460.53V694.14H459.37ZM462.39 702.87H463.55V694.14H462.39ZM465.40 702.87H466.56V694.14H465.40ZM468.41 692.41H469.57V680.05H468.41ZM471.42 702.87H472.58V694.14H471.42ZM474.43 702.87H475.59V694.14H474.43ZM477.44 698.51H478.60V688.73H477.44ZM480.46 702.87H481.62V694.14H480.46ZM483.47 692.41H484.63V677.64H483.47ZM486.48 702.87H487.64V694.14H486.48ZM489.49 702.87H490.65V694.14H489.49ZM492.50 702.87H493.66V694.14H492.50ZM495.51 702.87H496.67V694.14H495.51ZM498.53 702.87H499.69V694.14H498.53ZM501.54 698.51H502.70V688.12H501.54ZM504.55 702.87H505.71V694.14H504.55ZM507.56 698.51H508.72V689.78H507.56ZM510.57 702.87H511.73V694.14H510.57ZM513.58 633.14H514.74V589.56H513.58ZM516.59 702.87H517.75V694.14H516.59ZM519.61 692.41H520.77V678.28H519.61ZM522.62 676.72H523.78V662.77H522.62ZM525.63 692.41H526.79V681.98H525.63ZM528.64 702.87H529.80V694.14H528.64ZM531.65 698.51H532.81V687.78H531.65ZM534.66 702.87H535.82V694.14H534.66ZM537.68 633.14H538.84V589.56H537.68ZM540.69 698.51H541.85V687.78H540.69ZM543.70 702.87H544.86V694.14H543.70ZM546.71 702.87H547.87V694.14H546.71ZM549.72 698.51H550.88V689.78H549.72ZM552.73 698.51H553.89V689.78H552.73ZM555.75 702.87H556.91V694.14H555.75ZM558.76 702.87H559.92V694.14H558.76ZM561.77 702.87H562.93V694.14H561.77ZM564.78 692.41H565.94V683.27H564.78ZM567.79 698.51H568.95V689.78H567.79ZM570.80 702.87H571.96V694.14H570.80ZM573.82 702.87H574.98V694.14H573.82ZM576.83 698.51H577.99V687.78H576.83ZM579.84 702.87H581.00V694.14H579.84ZM582.85 698.51H584.01V689.78H582.85ZM585.86 702.87H587.02V694.14H585.86ZM588.87 702.87H590.03V694.14H588.87ZM591.88 698.51H593.04V687.78H591.88ZM594.90 702.87H596.06V694.14H594.90ZM597.91 702.87H599.07V694.14H597.91ZM600.92 702.87H602.08V694.14H600.92ZM603.93 702.87H605.09V694.14H603.93ZM606.94 698.51H608.10V687.78H606.94ZM609.95 692.41H611.11V677.64H609.95ZM612.97 702.87H614.13V694.14H612.97ZM615.98 676.72H617.14V654.93H615.98ZM618.99 692.41H620.15V683.27H618.99ZM622.00 702.87H623.16V694.14H622.00ZM625.01 676.72H626.17V662.77H625.01ZM628.02 702.87H629.18V694.14H628.02ZM631.04 692.41H632.20V682.22H631.04ZM634.05 702.87H635.21V694.14H634.05ZM637.06 676.72H638.22V654.93H637.06ZM640.07 698.51H641.23V689.78H640.07ZM643.08 702.87H644.24V694.14H643.08ZM646.09 702.87H647.25V694.14H646.09ZM649.11 698.51H650.27V689.78H649.11ZM652.12 702.87H653.28V694.14H652.12ZM655.13 692.41H656.29V682.22H655.13Z" fill="#be4b48"/>
<path d="M55.82 689.78H56.98V683.96H55.82ZM58.83 681.98H59.99V675.03H58.83ZM61.84 694.14H63.00V688.32H61.84ZM64.85 589.56H66.01V560.54H64.85ZM67.87 689.78H69.03V683.96H67.87ZM70.88 687.78H72.04V680.63H70.88ZM73.89 683.27H75.05V677.18H73.89ZM76.90 654.93H78.06V640.37H76.90ZM79.91 688.36H81.07V681.59H79.91ZM82.92 679.73H84.08V672.14H82.92ZM85.94 694.14H87.10V688.32H85.94ZM88.95 694.14H90.11V688.32H88.95ZM91.96 679.84H93.12V671.47H91.96ZM94.97 589.56H96.13V575.00H94.97ZM97.98 679.84H99.14V671.47H97.98ZM100.99 688.12H102.15V681.19H100.99ZM104.01 679.50H105.17V670.90H104.01ZM107.02 689.78H108.18V683.96H107.02ZM110.03 694.14H111.19V688.32H110.03ZM113.04 678.28H114.20V668.86H113.04ZM116.05 694.14H117.21V688.32H116.05ZM119.06 694.14H120.22V688.32H119.06ZM122.08 694.14H123.24V688.32H122.08ZM125.09 694.14H126.25V688.32H125.09ZM128.10 683.27H129.26V677.18H128.10ZM131.11 687.78H132.27V680.63H131.11ZM134.12 687.78H135.28V680.63H134.12ZM137.13 687.78H138.29V680.63H137.13ZM140.14 677.64H141.30V667.79H140.14ZM143.16 694.14H144.32V688.32H143.16ZM146.17 694.14H147.33V688.32H146.17ZM149.18 694.14H150.34V688.32H149.18ZM152.19 655.80H153.35V645.87H152.19ZM155.20 687.78H156.36V680.63H155.20ZM158.21 694.14H159.37V688.32H158.21ZM161.23 666.26H162.39V658.42H161.23ZM164.24 687.78H165.40V680.63H164.24ZM167.25 654.93H168.41V640.37H167.25ZM170.26 694.14H171.42V688.32H170.26ZM173.27 694.14H174.43V688.32H173.27ZM176.28 677.64H177.44V667.79H176.28ZM179.30 694.14H180.46V688.32H179.30ZM182.31 665.65H183.47V658.42H182.31ZM185.32 662.77H186.48V652.66H185.32ZM188.33 694.14H189.49V688.32H188.33ZM191.34 694.14H192.50V688.32H191.34ZM194.35 694.14H195.51V688.32H194.35ZM197.37 662.77H198.53V652.66H197.37ZM200.38 694.14H201.54V688.32H200.38ZM203.39 694.14H204.55V688.32H203.39ZM206.40 694.14H207.56V688.32H206.40ZM209.41 681.37H210.57V674.01H209.41ZM212.42 689.78H213.58V683.96H212.42ZM215.43 654.93H216.59V640.37H215.43ZM218.45 683.27H219.61V677.18H218.45ZM221.46 688.36H222.62V681.59H221.46ZM224.47 687.78H225.63V680.63H224.47ZM227.48 687.78H228.64V680.63H227.48ZM230.49 689.78H231.65V683.96H230.49ZM233.50 694.14H234.66V688.32H233.50ZM236.52 687.78H237.68V680.63H236.52ZM239.53 694.14H240.69V688.32H239.53ZM242.54 687.78H243.70V680.63H242.54ZM245.55 694.14H246.71V688.32H245.55ZM248.56 694.14H249.72V688.32H248.56ZM251.57 694.14H252.73V688.32H251.57ZM254.59 677.64H255.75V667.79H254.59ZM257.60 687.78H258.76V680.63H257.60ZM260.61 694.14H261.77V688.32H260.61ZM263.62 687.78H264.78V680.63H263.62ZM266.63 687.78H267.79V680.63H266.63ZM269.64 694.14H270.80V688.32H269.64ZM272.66 694.14H273.82V688.32H272.66ZM275.67 694.14H276.83V688.32H275.67ZM278.68 694.14H279.84V688.32H278.68ZM281.69 694.14H282.85V688.32H281.69ZM284.70 688.36H285.86V681.59H284.70ZM287.71 689.78H288.87V683.96H287.71ZM290.72 678.28H291.88V668.86H290.72ZM293.74 694.14H294.90V688.32H293.74ZM296.75 694.14H297.91V688.32H296.75ZM299.76 680.39H300.92V672.37H299.76ZM302.77 694.14H303.93V688.32H302.77ZM305.78 694.14H306.94V688.32H305.78ZM308.79 694.14H309.95V688.32H308.79ZM311.81 694.14H312.97V688.32H311.81ZM314.82 662.77H315.98V656.41H314.82ZM317.83 694.14H318.99V688.32H317.83ZM320.84 694.14H322.00V688.32H320.84ZM323.85 654.93H325.01V640.37H323.85ZM326.86 694.14H328.02V688.32H326.86ZM329.88 694.14H331.04V688.32H329.88ZM332.89 654.93H334.05V640.37H332.89ZM335.90 687.78H337.06V680.63H335.90ZM338.91 694.14H340.07V688.32H338.91ZM341.92 694.14H343.08V688.32H341.92ZM344.93 689.78H346.09V683.96H344.93ZM347.95 679.71H349.11V671.24H347.95ZM350.96 694.14H352.12V688.32H350.96ZM353.97 694.14H355.13V688.32H353.97ZM356.98 662.77H358.14V652.66H356.98ZM359.99 681.98H361.15V675.03H359.99ZM363.00 694.14H364.16V688.32H363.00ZM366.01 694.14H367.17V688.32H366.01ZM369.03 694.14H370.19V688.32H369.03ZM372.04 694.14H373.20V688.32H372.04ZM375.05 688.12H376.21V681.19H375.05ZM378.06 677.64H379.22V667.79H378.06ZM381.07 689.78H382.23V683.96H381.07ZM384.08 694.14H385.24V688.32H384.08ZM387.10 694.14H388.26V688.32H387.10ZM390.11 654.93H391.27V640.37H390.11ZM393.12 687.78H394.28V680.63H393.12ZM396.13 662.77H397.29V652.66H396.13ZM399.14 694.14H400.30V688.32H399.14ZM402.15 589.56H403.31V560.54H402.15ZM405.17 694.14H406.33V688.32H405.17ZM408.18 694.14H409.34V688.32H408.18ZM411.19 687.78H412.35V680.63H411.19ZM414.20 681.37H415.36V674.01H414.20ZM417.21 694.14H418.37V688.32H417.21ZM420.22 694.14H421.38V688.32H420.22ZM423.24 694.14H424.40V688.32H423.24ZM426.25 654.93H427.41V640.37H426.25ZM429.26 677.64H430.42V667.79H429.26ZM432.27 694.14H433.43V688.32H432.27ZM435.28 694.14H436.44V688.32H435.28ZM438.29 694.14H439.45V688.32H438.29ZM441.30 694.14H442.46V688.32H441.30ZM444.32 681.37H445.48V674.01H444.32ZM447.33 694.14H448.49V688.32H447.33ZM450.34 694.14H451.50V688.32H450.34ZM453.35 694.14H454.51V688.32H453.35ZM456.36 694.14H457.52V688.32H456.36ZM459.37 694.14H460.53V688.32H459.37ZM462.39 694.14H463.55V688.32H462.39ZM465.40 694.14H466.56V688.32H465.40ZM468.41 680.05H469.57V671.81H468.41ZM471.42 694.14H472.58V688.32H471.42ZM474.43 694.14H475.59V688.32H474.43ZM477.44 688.73H478.60V682.21H477.44ZM480.46 694.14H481.62V688.32H480.46ZM483.47 677.64H484.63V667.79H483.47ZM486.48 694.14H487.64V688.32H486.48ZM489.49 694.14H490.65V688.32H489.49ZM492.50 694.14H493.66V688.32H492.50ZM495.51 694.14H496.67V688.32H495.51ZM498.53 694.14H499.69V688.32H498.53ZM501.54 688.12H502.70V681.19H501.54ZM504.55 694.14H505.71V688.32H504.55ZM507.56 689.78H508.72V683.96H507.56ZM510.57 694.14H511.73V688.32H510.57ZM513.58 589.56H514.74V560.54H513.58ZM516.59 694.14H517.75V688.32H516.59ZM519.61 678.28H520.77V668.86H519.61ZM522.62 662.77H523.78V653.19H522.62ZM525.63 681.98H526.79V675.03H525.63ZM528.64 694.14H529.80V688.32H528.64ZM531.65 687.78H532.81V680.63H531.65ZM534.66 694.14H535.82V688.32H534.66ZM537.68 589.56H538.84V560.54H537.68ZM540.69 687.78H541.85V680.63H540.69ZM543.70 694.14H544.86V688.32H543.70ZM546.71 694.14H547.87V688.32H546.71ZM549.72 689.78H550.88V683.96H549.72ZM552.73 689.78H553.89V683.96H552.73ZM555.75 694.14H556.91V688.32H555.75ZM558.76 694.14H559.92V688.32H558.76ZM561.77 694.14H562.93V688.32H561.77ZM564.78 683.27H565.94V677.18H564.78ZM567.79 689.78H568.95V683.96H567.79ZM570.80 694.14H571.96V688.32H570.80ZM573.82 694.14H574.98V688.32H573.82ZM576.83 687.78H577.99V680.63H576.83ZM579.84 694.14H581.00V688.32H579.84ZM582.85 689.78H584.01V683.96H582.85ZM585.86 694.14H587.02V688.32H585.86ZM588.87 694.14H590.03V688.32H588.87ZM591.88 687.78H593.04V680.63H591.88ZM594.90 694.14H596.06V688.32H594.90ZM597.91 694.14H599.07V688.32H597.91ZM600.92 694.14H602.08V688.32H600.92ZM603.93 694.14H605.09V688.32H603.93ZM606.94 687.78H608.10V680.63H606.94ZM609.95 677.64H611.11V667.79H609.95ZM612.97 694.14H614.13V688.32H612.97ZM615.98 654.93H617.14V640.37H615.98ZM618.99 683.27H620.15V677.18H618.99ZM622.00 694.14H623.16V688.32H622.00ZM625.01 662.77H626.17V655.80H625.01ZM628.02 694.14H629.18V688.32H628.02ZM631.04 682.22H632.20V675.43H631.04ZM634.05 694.14H635.21V688.32H634.05ZM637.06 654.93H638.22V640.37H637.06ZM640.07 689.78H641.23V683.96H640.07ZM643.08 694.14H644.24V688.32H643.08ZM646.09 694.14H647.25V688.32H646.09ZM649.11 689.78H650.27V683.96H649.11ZM652.12 694.14H653.28V688.32H652.12ZM655.13 682.22H656.29V675.43H655.13Z" fill="#98b954"/>
<path d="M55.82 683.96H56.98V679.60H55.82ZM58.83 675.03H59.99V669.82H58.83ZM61.84 688.32H63.00V683.96H61.84ZM64.85 560.54H66.01V538.75H64.85ZM67.87 683.96H69.03V679.60H67.87ZM70.88 680.63H72.04V675.26H70.88ZM73.89 677.18H75.05V672.62H73.89ZM76.90 640.37H78.06V629.48H76.90ZM79.91 681.59H81.07V676.51H79.91ZM82.92 672.14H84.08V666.45H82.92ZM85.94 688.32H87.10V683.96H85.94ZM88.95 688.32H90.11V683.96H88.95ZM91.96 671.47H93.12V665.19H91.96ZM94.97 575.00H96.13V564.11H94.97ZM97.98 671.47H99.14V665.19H97.98ZM100.99 681.19H102.15V676.00H100.99ZM104.01 670.90H105.17V664.45H104.01ZM107.02 683.96H108.18V679.60H107.02ZM110.03 688.32H111.19V683.96H110.03ZM113.04 668.86H114.20V661.80H113.04ZM116.05 688.32H117.21V683.96H116.05ZM119.06 688.32H120.22V683.96H119.06ZM122.08 688.32H123.24V683.96H122.08ZM125.09 688.32H126.25V683.96H125.09ZM128.10 677.18H129.26V672.62H128.10ZM131.11 680.63H132.27V675.26H131.11ZM134.12 680.63H135.28V675.26H134.12ZM137.13 680.63H138.29V675.26H137.13ZM140.14 667.79H141.30V660.40H140.14ZM143.16 688.32H144.32V683.96H143.16ZM146.17 688.32H147.33V683.96H146.17ZM149.18 688.32H150.34V683.96H149.18ZM152.19 645.87H153.35V640.98H152.19ZM155.20 680.63H156.36V675.26H155.20ZM158.21 688.32H159.37V683.96H158.21ZM161.23 658.42H162.39V654.06H161.23ZM164.24 680.63H165.40V675.26H164.24ZM167.25 640.37H168.41V629.48H167.25ZM170.26 688.32H171.42V683.96H170.26ZM173.27 688.32H174.43V683.96H173.27ZM176.28 667.79H177.44V660.40H176.28ZM179.30 688.32H180.46V683.96H179.30ZM182.31 658.42H183.47V654.93H182.31ZM185.32 652.66H186.48V647.96H185.32ZM188.33 688.32H189.49V683.96H188.33ZM191.34 688.32H192.50V683.96H191.34ZM194.35 688.32H195.51V683.96H194.35ZM197.37 652.66H198.53V646.48H197.37ZM200.38 688.32H201.54V683.96H200.38ZM203.39 688.32H204.55V683.96H203.39ZM206.40 688.32H207.56V683.96H206.40ZM209.41 674.01H210.57V668.50H209.41ZM212.42 683.96H213.58V679.60H212.42ZM215.43 640.37H216.59V629.48H215.43ZM218.45 677.18H219.61V672.62H218.45ZM221.46 681.59H222.62V676.51H221.46ZM224.47 680.63H225.63V675.26H224.47ZM227.48 680.63H228.64V675.26H227.48ZM230.49 683.96H231.65V679.60H230.49ZM233.50 688.32H234.66V683.96H233.50ZM236.52 680.63H237.68V675.26H236.52ZM239.53 688.32H240.69V683.96H239.53ZM242.54 680.63H243.70V675.26H242.54ZM245.55 688.32H246.71V683.96H245.55ZM248.56 688.32H249.72V683.96H248.56ZM251.57 688.32H252.73V683.96H251.57ZM254.59 667.79H255.75V660.40H254.59ZM257.60 680.63H258.76V675.26H257.60ZM260.61 688.32H261.77V683.96H260.61ZM263.62 680.63H264.78V675.26H263.62ZM266.63 680.63H267.79V675.26H266.63ZM269.64 688.32H270.80V683.96H269.64ZM272.66 688.32H273.82V683.96H272.66ZM275.67 688.32H276.83V683.96H275.67ZM278.68 688.32H279.84V683.96H278.68ZM281.69 688.32H282.85V683.96H281.69ZM284.70 681.59H285.86V676.51H284.70ZM287.71 683.96H288.87V679.60H287.71ZM290.72 668.86H291.88V661.80H290.72ZM293.74 688.32H294.90V683.96H293.74ZM296.75 688.32H297.91V683.96H296.75ZM299.76 672.37H300.92V666.36H299.76ZM302.77 688.32H303.93V683.96H302.77ZM305.78 688.32H306.94V683.96H305.78ZM308.79 688.32H309.95V683.96H308.79ZM311.81 688.32H312.97V683.96H311.81ZM314.82 656.41H315.98V652.05H314.82ZM317.83 688.32H318.99V683.96H317.83ZM320.84 688.32H322.00V683.96H320.84ZM323.85 640.37H325.01V629.48H323.85ZM326.86 688.32H328.02V683.96H326.86ZM329.88 688.32H331.04V683.96H329.88ZM332.89 640.37H334.05V629.48H332.89ZM335.90 680.63H337.06V675.26H335.90ZM338.91 688.32H340.07V683.96H338.91ZM341.92 688.32H343.08V683.96H341.92ZM344.93 683.96H346.09V679.60H344.93ZM347.95 671.24H349.11V664.89H347.95ZM350.96 688.32H352.12V683.96H350.96ZM353.97 688.32H355.13V683.96H353.97ZM356.98 652.66H358.14V647.96H356.98ZM359.99 675.03H361.15V669.82H359.99ZM363.00 688.32H364.16V683.96H363.00ZM366.01 688.32H367.17V683.96H366.01ZM369.03 688.32H370.19V683.96H369.03ZM372.04 688.32H373.20V683.96H372.04ZM375.05 681.19H376.21V676.00H375.05ZM378.06 667.79H379.22V660.40H378.06ZM381.07 683.96H382.23V679.60H381.07ZM384.08 688.32H385.24V683.96H384.08ZM387.10 688.32H388.26V683.96H387.10ZM390.11 640.37H391.27V629.48H390.11ZM393.12 680.63H394.28V675.26H393.12ZM396.13 652.66H397.29V647.96H396.13ZM399.14 688.32H400.30V683.96H399.14ZM402.15 560.54H403.31V538.75H402.15ZM405.17 688.32H406.33V683.96H405.17ZM408.18 688.32H409.34V683.96H408.18ZM411.19 680.63H412.35V675.26H411.19ZM414.20 674.01H415.36V668.50H414.20ZM417.21 688.32H418.37V683.96H417.21ZM420.22 688.32H421.38V683.96H420.22ZM423.24 688.32H424.40V683.96H423.24ZM426.25 640.37H427.41V630.53H426.25ZM429.26 667.79H430.42V660.40H429.26ZM432.27 688.32H433.43V683.96H432.27ZM435.28 688.32H436.44V683.96H435.28ZM438.29 688.32H439.45V683.96H438.29ZM441.30 688.32H442.46V683.96H441.30ZM444.32 674.01H445.48V668.50H444.32ZM447.33 688.32H448.49V683.96H447.33ZM450.34 688.32H451.50V683.96H450.34ZM453.35 688.32H454.51V683.96H453.35ZM456.36 688.32H457.52V683.96H456.36ZM459.37 688.32H460.53V683.96H459.37ZM462.39 688.32H463.55V683.96H462.39ZM465.40 688.32H466.56V683.96H465.40ZM468.41 671.81H469.57V665.63H468.41ZM471.42 688.32H472.58V683.96H471.42ZM474.43 688.32H475.59V683.96H474.43ZM477.44 682.21H478.60V677.32H477.44ZM480.46 688.32H481.62V683.96H480.46ZM483.47 667.79H484.63V660.40H483.47ZM486.48 688.32H487.64V683.96H486.48ZM489.49 688.32H490.65V683.96H489.49ZM492.50 688.32H493.66V683.96H492.50ZM495.51 688.32H496.67V683.96H495.51ZM498.53 688.32H499.69V683.96H498.53ZM501.54 681.19H502.70V676.00H501.54ZM504.55 688.32H505.71V683.96H504.55ZM507.56 683.96H508.72V679.60H507.56ZM510.57 688.32H511.73V683.96H510.57ZM513.58 560.54H514.74V538.75H513.58ZM516.59 688.32H517.75V683.96H516.59ZM519.61 668.86H520.77V661.80H519.61ZM522.62 653.19H523.78V645.87H522.62ZM525.63 675.03H526.79V669.82H525.63ZM528.64 688.32H529.80V683.96H528.64ZM531.65 680.63H532.81V675.26H531.65ZM534.66 688.32H535.82V683.96H534.66ZM537.68 560.54H538.84V538.75H537.68ZM540.69 680.63H541.85V675.26H540.69ZM543.70 688.32H544.86V683.96H543.70ZM546.71 688.32H547.87V683.96H546.71ZM549.72 683.96H550.88V679.60H549.72ZM552.73 683.96H553.89V679.60H552.73ZM555.75 688.32H556.91V683.96H555.75ZM558.76 688.32H559.92V683.96H558.76ZM561.77 688.32H562.93V683.96H561.77ZM564.78 677.18H565.94V672.62H564.78ZM567.79 683.96H568.95V679.60H567.79ZM570.80 688.32H571.96V683.96H570.80ZM573.82 688.32H574.98V683.96H573.82ZM576.83 680.63H577.99V675.26H576.83ZM579.84 688.32H581.00V683.96H579.84ZM582.85 683.96H584.01V679.60H582.85ZM585.86 688.32H587.02V683.96H585.86ZM588.87 688.32H590.03V683.96H588.87ZM591.88 680.63H593.04V675.26H591.88ZM594.90 688.32H596.06V683.96H594.90ZM597.91 688.32H599.07V683.96H597.91ZM600.92 688.32H602.08V683.96H600.92ZM603.93 688.32H605.09V683.96H603.93ZM606.94 680.63H608.10V675.26H606.94ZM609.95 667.79H611.11V660.40H609.95ZM612.97 688.32H614.13V683.96H612.97ZM615.98 640.37H617.14V629.48H615.98ZM618.99 677.18H620.15V672.62H618.99ZM622.00 688.32H623.16V683.96H622.00ZM625.01 655.80H626.17V650.83H625.01ZM628.02 688.32H629.18V683.96H628.02ZM631.04 675.43H632.20V670.34H631.04ZM634.05 688.32H635.21V683.96H634.05ZM637.06 640.37H638.22V629.48H637.06ZM640.07 683.96H641.23V679.60H640.07ZM643.08 688.32H644.24V683.96H643.08ZM646.09 688.32H647.25V683.96H646.09ZM649.11 683.96H650.27V679.60H649.11ZM652.12 688.32H653.28V683.96H652.12ZM655.13 675.43H656.29V670.34H655.13Z" fill="#7d60a0"/>
<path d="M55.82 679.60H56.98V676.11H55.82ZM58.83 669.82H59.99V665.65H58.83ZM61.84 683.96H63.00V680.47H61.84ZM64.85 538.75H66.01V530.03H64.85ZM67.87 679.60H69.03V676.11H67.87ZM70.88 675.26H72.04V670.97H70.88ZM73.89 672.62H75.05V668.96H73.89ZM76.90 629.48H78.06V620.07H76.90ZM79.91 676.51H81.07V672.45H79.91ZM82.92 666.45H84.08V661.90H82.92ZM85.94 683.96H87.10V680.47H85.94ZM88.95 683.96H90.11V680.47H88.95ZM91.96 665.19H93.12V660.16H91.96ZM94.97 564.11H96.13V554.70H94.97ZM97.98 665.19H99.14V660.16H97.98ZM100.99 676.00H102.15V671.84H100.99ZM104.01 664.45H105.17V659.29H104.01ZM107.02 679.60H108.18V676.11H107.02ZM110.03 683.96H111.19V680.47H110.03ZM113.04 661.80H114.20V656.15H113.04ZM116.05 683.96H117.21V680.47H116.05ZM119.06 683.96H120.22V680.47H119.06ZM122.08 683.96H123.24V680.47H122.08ZM125.09 683.96H126.25V680.47H125.09ZM128.10 672.62H129.26V668.96H128.10ZM131.11 675.26H132.27V670.97H131.11ZM134.12 675.26H135.28V670.97H134.12ZM137.13 675.26H138.29V670.97H137.13ZM140.14 660.40H141.30V654.49H140.14ZM143.16 683.96H144.32V680.47H143.16ZM146.17 683.96H147.33V680.47H146.17ZM149.18 683.96H150.34V680.47H149.18ZM152.19 640.98H153.35V636.36H152.19ZM155.20 675.26H156.36V670.97H155.20ZM158.21 683.96H159.37V680.47H158.21ZM161.23 654.06H162.39V649.26H161.23ZM164.24 675.26H165.40V670.97H164.24ZM167.25 629.48H168.41V620.07H167.25ZM170.26 683.96H171.42V680.47H170.26ZM173.27 683.96H174.43V680.47H173.27ZM176.28 660.40H177.44V654.49H176.28ZM179.30 683.96H180.46V680.47H179.30ZM182.31 654.93H183.47V651.18H182.31ZM185.32 647.96H186.48V643.42H185.32ZM188.33 683.96H189.49V680.47H188.33ZM191.34 683.96H192.50V680.47H191.34ZM194.35 683.96H195.51V680.47H194.35ZM197.37 646.48H198.53V641.51H197.37ZM200.38 683.96H201.54V680.47H200.38ZM203.39 683.96H204.55V680.47H203.39ZM206.40 683.96H207.56V680.47H206.40ZM209.41 668.50H210.57V664.08H209.41ZM212.42 679.60H213.58V676.11H212.42ZM215.43 629.48H216.59V620.07H215.43ZM218.45 672.62H219.61V668.96H218.45ZM221.46 676.51H222.62V672.45H221.46ZM224.47 675.26H225.63V670.97H224.47ZM227.48 675.26H228.64V670.97H227.48ZM230.49 679.60H231.65V676.11H230.49ZM233.50 683.96H234.66V680.47H233.50ZM236.52 675.26H237.68V670.97H236.52ZM239.53 683.96H240.69V680.47H239.53ZM242.54 675.26H243.70V670.97H242.54ZM245.55 683.96H246.71V680.47H245.55ZM248.56 683.96H249.72V680.47H248.56ZM251.57 683.96H252.73V680.47H251.57ZM254.59 660.40H255.75V654.49H254.59ZM257.60 675.26H258.76V670.97H257.60ZM260.61 683.96H261.77V680.47H260.61ZM263.62 675.26H264.78V670.97H263.62ZM266.63 675.26H267.79V670.97H266.63ZM269.64 683.96H270.80V680.47H269.64ZM272.66 683.96H273.82V680.47H272.66ZM275.67 683.96H276.83V680.47H275.67ZM278.68 683.96H279.84V680.47H278.68ZM281.69 683.96H282.85V680.47H281.69ZM284.70 676.51H285.86V672.45H284.70ZM287.71 679.60H288.87V676.11H287.71ZM290.72 661.80H291.88V656.15H290.72ZM293.74 683.96H294.90V680.47H293.74ZM296.75 683.96H297.91V680.47H296.75ZM299.76 666.36H300.92V661.55H299.76ZM302.77 683.96H303.93V680.47H302.77ZM305.78 683.96H306.94V680.47H305.78ZM308.79 683.96H309.95V680.47H308.79ZM311.81 683.96H312.97V680.47H311.81ZM314.82 652.05H315.98V648.74H314.82ZM317.83 683.96H318.99V680.47H317.83ZM320.84 683.96H322.00V680.47H320.84ZM323.85 629.48H325.01V620.07H323.85ZM326.86 683.96H328.02V680.47H326.86ZM329.88 683.96H331.04V680.47H329.88ZM332.89 629.48H334.05V620.07H332.89ZM335.90 675.26H337.06V670.97H335.90ZM338.91 683.96H340.07V680.47H338.91ZM341.92 683.96H343.08V680.47H341.92ZM344.93 679.60H346.09V676.11H344.93ZM347.95 664.89H349.11V659.81H347.95ZM350.96 683.96H352.12V680.47H350.96ZM353.97 683.96H355.13V680.47H353.97ZM356.98 647.96H358.14V643.42H356.98ZM359.99 669.82H361.15V665.65H359.99ZM363.00 683.96H364.16V680.47H363.00ZM366.01 683.96H367.17V680.47H366.01ZM369.03 683.96H370.19V680.47H369.03ZM372.04 683.96H373.20V680.47H372.04ZM375.05 676.00H376.21V671.84H375.05ZM378.06 660.40H379.22V654.49H378.06ZM381.07 679.60H382.23V676.11H381.07ZM384.08 683.96H385.24V680.47H384.08ZM387.10 683.96H388.26V680.47H387.10ZM390.11 629.48H391.27V620.07H390.11ZM393.12 675.26H394.28V670.97H393.12ZM396.13 647.96H397.29V643.42H396.13ZM399.14 683.96H400.30V680.47H399.14ZM402.15 538.75H403.31V521.31H402.15ZM405.17 683.96H406.33V680.47H405.17ZM408.18 683.96H409.34V680.47H408.18ZM411.19 675.26H412.35V670.97H411.19ZM414.20 668.50H415.36V664.08H414.20ZM417.21 683.96H418.37V680.47H417.21ZM420.22 683.96H421.38V680.47H420.22ZM423.24 683.96H424.40V680.47H423.24ZM426.25 630.53H427.41V622.68H426.25ZM429.26 660.40H430.42V654.49H429.26ZM432.27 683.96H433.43V680.47H432.27ZM435.28 683.96H436.44V680.47H435.28ZM438.29 683.96H439.45V680.47H438.29ZM441.30 683.96H442.46V680.47H441.30ZM444.32 668.50H445.48V664.08H444.32ZM447.33 683.96H448.49V680.47H447.33ZM450.34 683.96H451.50V680.47H450.34ZM453.35 683.96H454.51V680.47H453.35ZM456.36 683.96H457.52V680.47H456.36ZM459.37 683.96H460.53V680.47H459.37ZM462.39 683.96H463.55V680.47H462.39ZM465.40 683.96H466.56V680.47H465.40ZM468.41 665.63H469.57V660.68H468.41ZM471.42 683.96H472.58V680.47H471.42ZM474.43 683.96H475.59V680.47H474.43ZM477.44 677.32H478.60V673.41H477.44ZM480.46 683.96H481.62V680.47H480.46ZM483.47 660.40H484.63V654.49H483.47ZM486.48 683.96H487.64V680.47H486.48ZM489.49 683.96H490.65V680.47H489.49ZM492.50 683.96H493.66V680.47H492.50ZM495.51 683.96H496.67V680.47H495.51ZM498.53 683.96H499.69V680.47H498.53ZM501.54 676.00H502.70V671.84H501.54ZM504.55 683.96H505.71V680.47H504.55ZM507.56 679.60H508.72V676.11H507.56ZM510.57 683.96H511.73V680.47H510.57ZM513.58 538.75H514.74V521.31H513.58ZM516.59 683.96H517.75V680.47H516.59ZM519.61 661.80H520.77V656.15H519.61ZM522.62 645.87H523.78V639.68H522.62ZM525.63 669.82H526.79V665.65H525.63ZM528.64 683.96H529.80V680.47H528.64ZM531.65 675.26H532.81V670.97H531.65ZM534.66 683.96H535.82V680.47H534.66ZM537.68 538.75H538.84V521.31H537.68ZM540.69 675.26H541.85V670.97H540.69ZM543.70 683.96H544.86V680.47H543.70ZM546.71 683.96H547.87V680.47H546.71ZM549.72 679.60H550.88V676.11H549.72ZM552.73 679.60H553.89V676.11H552.73ZM555.75 683.96H556.91V680.47H555.75ZM558.76 683.96H559.92V680.47H558.76ZM561.77 683.96H562.93V680.47H561.77ZM564.78 672.62H565.94V668.96H564.78ZM567.79 679.60H568.95V676.11H567.79ZM570.80 683.96H571.96V680.47H570.80ZM573.82 683.96H574.98V680.47H573.82ZM576.83 675.26H577.99V670.97H576.83ZM579.84 683.96H581.00V680.47H579.84ZM582.85 679.60H584.01V676.11H582.85ZM585.86 683.96H587.02V680.47H585.86ZM588.87 683.96H590.03V680.47H588.87ZM591.88 675.26H593.04V670.97H591.88ZM594.90 683.96H596.06V680.47H594.90ZM597.91 683.96H599.07V680.47H597.91ZM600.92 683.96H602.08V680.47H600.92ZM603.93 683.96H605.09V680.47H603.93ZM606.94 675.26H608.10V670.97H606.94ZM609.95 660.40H611.11V654.49H609.95ZM612.97 683.96H614.13V680.47H612.97ZM615.98 629.48H617.14V620.07H615.98ZM618.99 672.62H620.15V668.96H618.99ZM622.00 683.96H623.16V680.47H622.00ZM625.01 650.83H626.17V646.48H625.01ZM628.02 683.96H629.18V680.47H628.02ZM631.04 670.34H632.20V666.26H631.04ZM634.05 683.96H635.21V680.47H634.05ZM637.06 629.48H638.22V620.07H637.06ZM640.07 679.60H641.23V676.11H640.07ZM643.08 683.96H644.24V680.47H643.08ZM646.09 683.96H647.25V680.47H646.09ZM649.11 679.60H650.27V676.11H649.11ZM652.12 683.96H653.28V680.47H652.12ZM655.13 670.34H656.29V666.26H655.13Z" fill="#46aac5"/>
<line x1="54.0" x2="54.0" y1="502.4" y2="723.9" stroke="#8a8a8a" stroke-width="1.6"/>
<line x1="54.0" x2="658.7" y1="720.3" y2="720.3" stroke="#8a8a8a" stroke-width="1.5"/>
<path d="M54.00 720.3v3.6M57.02 720.3v3.6M60.05 720.3v3.6M63.07 720.3v3.6M66.09 720.3v3.6M69.12 720.3v3.6M72.14 720.3v3.6M75.16 720.3v3.6M78.19 720.3v3.6M81.21 720.3v3.6M84.23 720.3v3.6M87.26 720.3v3.6M90.28 720.3v3.6M93.31 720.3v3.6M96.33 720.3v3.6M99.35 720.3v3.6M102.38 720.3v3.6M105.40 720.3v3.6M108.42 720.3v3.6M111.45 720.3v3.6M114.47 720.3v3.6M117.49 720.3v3.6M120.52 720.3v3.6M123.54 720.3v3.6M126.56 720.3v3.6M129.59 720.3v3.6M132.61 720.3v3.6M135.63 720.3v3.6M138.66 720.3v3.6M141.68 720.3v3.6M144.71 720.3v3.6M147.73 720.3v3.6M150.75 720.3v3.6M153.78 720.3v3.6M156.80 720.3v3.6M159.82 720.3v3.6M162.85 720.3v3.6M165.87 720.3v3.6M168.89 720.3v3.6M171.92 720.3v3.6M174.94 720.3v3.6M177.96 720.3v3.6M180.99 720.3v3.6M184.01 720.3v3.6M187.03 720.3v3.6M190.06 720.3v3.6M193.08 720.3v3.6M196.10 720.3v3.6M199.13 720.3v3.6M202.15 720.3v3.6M205.18 720.3v3.6M208.20 720.3v3.6M211.22 720.3v3.6M214.25 720.3v3.6M217.27 720.3v3.6M220.29 720.3v3.6M223.32 720.3v3.6M226.34 720.3v3.6M229.36 720.3v3.6M232.39 720.3v3.6M235.41 720.3v3.6M238.43 720.3v3.6M241.46 720.3v3.6M244.48 720.3v3.6M247.50 720.3v3.6M250.53 720.3v3.6M253.55 720.3v3.6M256.57 720.3v3.6M259.60 720.3v3.6M262.62 720.3v3.6M265.64 720.3v3.6M268.67 720.3v3.6M271.69 720.3v3.6M274.72 720.3v3.6M277.74 720.3v3.6M280.76 720.3v3.6M283.79 720.3v3.6M286.81 720.3v3.6M289.83 720.3v3.6M292.86 720.3v3.6M295.88 720.3v3.6M298.90 720.3v3.6M301.93 720.3v3.6M304.95 720.3v3.6M307.97 720.3v3.6M311.00 720.3v3.6M314.02 720.3v3.6M317.04 720.3v3.6M320.07 720.3v3.6M323.09 720.3v3.6M326.12 720.3v3.6M329.14 720.3v3.6M332.16 720.3v3.6M335.19 720.3v3.6M338.21 720.3v3.6M341.23 720.3v3.6M344.26 720.3v3.6M347.28 720.3v3.6M350.30 720.3v3.6M353.33 720.3v3.6M356.35 720.3v3.6M359.37 720.3v3.6M362.40 720.3v3.6M365.42 720.3v3.6M368.44 720.3v3.6M371.47 720.3v3.6M374.49 720.3v3.6M377.51 720.3v3.6M380.54 720.3v3.6M383.56 720.3v3.6M386.59 720.3v3.6M389.61 720.3v3.6M392.63 720.3v3.6M395.66 720.3v3.6M398.68 720.3v3.6M401.70 720.3v3.6M404.73 720.3v3.6M407.75 720.3v3.6M410.77 720.3v3.6M413.80 720.3v3.6M416.82 720.3v3.6M419.84 720.3v3.6M422.87 720.3v3.6M425.89 720.3v3.6M428.91 720.3v3.6M431.94 720.3v3.6M434.96 720.3v3.6M437.98 720.3v3.6M441.01 720.3v3.6M444.03 720.3v3.6M447.06 720.3v3.6M450.08 720.3v3.6M453.10 720.3v3.6M456.13 720.3v3.6M459.15 720.3v3.6M462.17 720.3v3.6M465.20 720.3v3.6M468.22 720.3v3.6M471.24 720.3v3.6M474.27 720.3v3.6M477.29 720.3v3.6M480.31 720.3v3.6M483.34 720.3v3.6M486.36 720.3v3.6M489.38 720.3v3.6M492.41 720.3v3.6M495.43 720.3v3.6M498.45 720.3v3.6M501.48 720.3v3.6M504.50 720.3v3.6M507.53 720.3v3.6M510.55 720.3v3.6M513.57 720.3v3.6M516.60 720.3v3.6M519.62 720.3v3.6M522.64 720.3v3.6M525.67 720.3v3.6M528.69 720.3v3.6M531.71 720.3v3.6M534.74 720.3v3.6M537.76 720.3v3.6M540.78 720.3v3.6M543.81 720.3v3.6M546.83 720.3v3.6M549.85 720.3v3.6M552.88 720.3v3.6M555.90 720.3v3.6M558.92 720.3v3.6M561.95 720.3v3.6M564.97 720.3v3.6M568.00 720.3v3.6M571.02 720.3v3.6M574.04 720.3v3.6M577.07 720.3v3.6M580.09 720.3v3.6M583.11 720.3v3.6M586.14 720.3v3.6M589.16 720.3v3.6M592.18 720.3v3.6M595.21 720.3v3.6M598.23 720.3v3.6M601.25 720.3v3.6M604.28 720.3v3.6M607.30 720.3v3.6M610.32 720.3v3.6M613.35 720.3v3.6M616.37 720.3v3.6M619.39 720.3v3.6M622.42 720.3v3.6M625.44 720.3v3.6M628.47 720.3v3.6M631.49 720.3v3.6M634.51 720.3v3.6M637.54 720.3v3.6M640.56 720.3v3.6M643.58 720.3v3.6M646.61 720.3v3.6M649.63 720.3v3.6M652.65 720.3v3.6M655.68 720.3v3.6M658.70 720.3v3.6" stroke="#8e8e8e" stroke-width="1.4" fill="none"/>
<text transform="translate(60.91,793) rotate(-90)" font-size="13px" textLength="60.4" lengthAdjust="spacingAndGlyphs" font-family="Liberation Serif, serif" font-weight="bold">object0002</text>
<text transform="translate(79.05,793) rotate(-90)" font-size="13px" textLength="60.4" lengthAdjust="spacingAndGlyphs" font-family="Liberation Serif, serif" font-weight="bold">object0008</text>
<text transform="translate(97.19,793) rotate(-90)" font-size="13px" textLength="60.4" lengthAdjust="spacingAndGlyphs" font-family="Liberation Serif, serif" font-weight="bold">object0014</text>
<text transform="translate(115.33,793) rotate(-90)" font-size="13px" textLength="60.4" lengthAdjust="spacingAndGlyphs" font-family="Liberation Serif, serif" font-weight="bold">object0020</text>
<text transform="translate(133.48,793) rotate(-90)" font-size="13px" textLength="60.4" lengthAdjust="spacingAndGlyphs" font-family="Liberation Serif, serif" font-weight="bold">object0026</text>
<text transform="translate(151.62,793) rotate(-90)" font-size="13px" textLength="60.4" lengthAdjust="spacingAndGlyphs" font-family="Liberation Serif, serif" font-weight="bold">object0032</text>
<text transform="translate(169.76,793) rotate(-90)" font-size="13px" textLength="60.4" lengthAdjust="spacingAndGlyphs" font-family="Liberation Serif, serif" font-weight="bold">object0038</text>
<text transform="translate(187.90,793) rotate(-90)" font-size="13px" textLength="60.4" lengthAdjust="spacingAndGlyphs" font-family="Liberation Serif, serif" font-weight="bold">object0044</text>
<text transform="translate(206.04,793) rotate(-90)" font-size="13px" textLength="60.4" lengthAdjust="spacingAndGlyphs" font-family="Liberation Serif, serif" font-weight="bold">object0050</text>
<text transform="translate(224.18,793) rotate(-90)" font-size="13px" textLength="60.4" lengthAdjust="spacingAndGlyphs" font-family="Liberation Serif, serif" font-weight="bold">object0056</text>
<text transform="translate(242.32,793) rotate(-90)" font-size="13px" textLength="60.4" lengthAdjust="spacingAndGlyphs" font-family="Liberation Serif, serif" font-weight="bold">object0062</text>
<text transform="translate(260.46,793) rotate(-90)" font-size="13px" textLength="60.4" lengthAdjust="spacingAndGlyphs" font-family="Liberation Serif, serif" font-weight="bold">object0068</text>
<text transform="translate(278.60,793) rotate(-90)" font-size="13px" textLength="60.4" lengthAdjust="spacingAndGlyphs" font-family="Liberation Serif, serif" font-weight="bold">object0074</text>
<text transform="translate(296.74,793) rotate(-90)" font-size="13px" textLength="60.4" lengthAdjust="spacingAndGlyphs" font-family="Liberation Serif, serif" font-weight="bold">object0080</text>
<text transform="translate(314.89,793) rotate(-90)" font-size="13px" textLength="60.4" lengthAdjust="spacingAndGlyphs" font-family="Liberation Serif, serif" font-weight="bold">object0086</text>
<text transform="translate(333.03,793) rotate(-90)" font-size="13px" textLength="60.4" lengthAdjust="spacingAndGlyphs" font-family="Liberation Serif, serif" font-weight="bold">object0092</text>
<text transform="translate(351.17,793) rotate(-90)" font-size="13px" textLength="60.4" lengthAdjust="spacingAndGlyphs" font-family="Liberation Serif, serif" font-weight="bold">object0098</text>
<text transform="translate(369.31,793) rotate(-90)" font-size="13px" textLength="60.4" lengthAdjust="spacingAndGlyphs" font-family="Liberation Serif, serif" font-weight="bold">object0104</text>
<text transform="translate(387.45,793) rotate(-90)" font-size="13px" textLength="60.4" lengthAdjust="spacingAndGlyphs" font-family="Liberation Serif, serif" font-weight="bold">object0110</text>
<text transform="translate(405.59,793) rotate(-90)" font-size="13px" textLength="60.4" lengthAdjust="spacingAndGlyphs" font-family="Liberation Serif, serif" font-weight="bold">object0116</text>
<text transform="translate(423.73,793) rotate(-90)" font-size="13px" textLength="60.4" lengthAdjust="spacingAndGlyphs" font-family="Liberation Serif, serif" font-weight="bold">object0122</text>
<text transform="translate(441.87,793) rotate(-90)" font-size="13px" textLength="60.4" lengthAdjust="spacingAndGlyphs" font-family="Liberation Serif, serif" font-weight="bold">object0128</text>
<text transform="translate(460.01,793) rotate(-90)" font-size="13px" textLength="60.4" lengthAdjust="spacingAndGlyphs" font-family="Liberation Serif, serif" font-weight="bold">object0134</text>
<text transform="translate(478.15,793) rotate(-90)" font-size="13px" textLength="60.4" lengthAdjust="spacingAndGlyphs" font-family="Liberation Serif, serif" font-weight="bold">object0140</text>
<text transform="translate(496.30,793) rotate(-90)" font-size="13px" textLength="60.4" lengthAdjust="spacingAndGlyphs" font-family="Liberation Serif, serif" font-weight="bold">object0146</text>
<text transform="translate(514.44,793) rotate(-90)" font-size="13px" textLength="60.4" lengthAdjust="spacingAndGlyphs" font-family="Liberation Serif, serif" font-weight="bold">object0152</text>
<text transform="translate(532.58,793) rotate(-90)" font-size="13px" textLength="60.4" lengthAdjust="spacingAndGlyphs" font-family="Liberation Serif, serif" font-weight="bold">object0158</text>
<text transform="translate(550.72,793) rotate(-90)" font-size="13px" textLength="60.4" lengthAdjust="spacingAndGlyphs" font-family="Liberation Serif, serif" font-weight="bold">object0164</text>
<text transform="translate(568.86,793) rotate(-90)" font-size="13px" textLength="60.4" lengthAdjust="spacingAndGlyphs" font-family="Liberation Serif, serif" font-weight="bold">object0170</text>
<text transform="translate(587.00,793) rotate(-90)" font-size="13px" textLength="60.4" lengthAdjust="spacingAndGlyphs" font-family="Liberation Serif, serif" font-weight="bold">object0176</text>
<text transform="translate(605.14,793) rotate(-90)" font-size="13px" textLength="60.4" lengthAdjust="spacingAndGlyphs" font-family="Liberation Serif, serif" font-weight="bold">object0182</text>
<text transform="translate(623.28,793) rotate(-90)" font-size="13px" textLength="60.4" lengthAdjust="spacingAndGlyphs" font-family="Liberation Serif, serif" font-weight="bold">object0188</text>
<text transform="translate(641.42,793) rotate(-90)" font-size="13px" textLength="60.4" lengthAdjust="spacingAndGlyphs" font-family="Liberation Serif, serif" font-weight="bold">object0194</text>
<text transform="translate(659.56,793) rotate(-90)" font-size="13px" textLength="60.4" lengthAdjust="spacingAndGlyphs" font-family="Liberation Serif, serif" font-weight="bold">object0200</text>
<text transform="translate(19.8,611) rotate(-90)" text-anchor="middle" font-size="13px" textLength="109" lengthAdjust="spacingAndGlyphs" font-family="Liberation Serif, serif" font-weight="bold">Average Recall (%)</text>
<text x="354.8" y="808.5" text-anchor="middle" font-size="13px" textLength="60.5" lengthAdjust="spacingAndGlyphs" font-family="Liberation Serif, serif" font-weight="bold">Categories</text>
<rect x="60.9" y="486.2" width="6" height="6.4" fill="#4a7ebb"/>
<text x="69.0" y="493.4" font-size="13px" textLength="100.3" lengthAdjust="spacingAndGlyphs" font-family="Liberation Serif, serif" font-weight="bold">Top-10 Retrievals</text>
<rect x="182.2" y="486.2" width="6" height="6.4" fill="#be4b48"/>
<text x="190.29999999999998" y="493.4" font-size="13px" textLength="100.3" lengthAdjust="spacingAndGlyphs" font-family="Liberation Serif, serif" font-weight="bold">Top-20 Retrievals</text>
<rect x="303.5" y="486.2" width="6" height="6.4" fill="#98b954"/>
<text x="311.6" y="493.4" font-size="13px" textLength="100.3" lengthAdjust="spacingAndGlyphs" font-family="Liberation Serif, serif" font-weight="bold">Top-30 Retrievals</text>
<rect x="424.8" y="486.2" width="6" height="6.4" fill="#7d60a0"/>
<text x="432.90000000000003" y="493.4" font-size="13px" textLength="100.3" lengthAdjust="spacingAndGlyphs" font-family="Liberation Serif, serif" font-weight="bold">Top-40 Retrievals</text>
<rect x="546.1" y="486.2" width="6" height="6.4" fill="#46aac5"/>
<text x="554.2" y="493.4" font-size="13px" textLength="100.3" lengthAdjust="spacingAndGlyphs" font-family="Liberation Serif, serif" font-weight="bold">Top-50 Retrievals</text>
<text x="341.5" y="843.5" text-anchor="middle" font-size="18.5px" textLength="23.6" lengthAdjust="spacingAndGlyphs" font-family="Liberation Serif, serif">(b)</text>
</svg></body></html>
